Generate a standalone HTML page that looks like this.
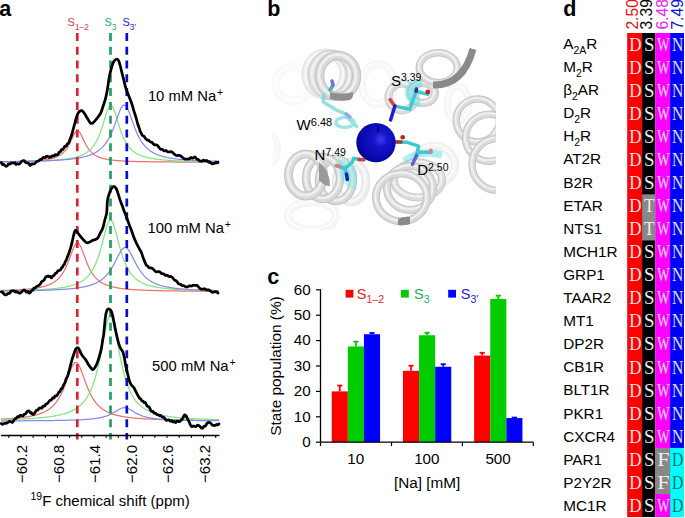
<!DOCTYPE html>
<html><head><meta charset="utf-8"><style>
html,body{margin:0;padding:0;background:#fff;}
body{width:685px;height:518px;overflow:hidden;font-family:"Liberation Sans", sans-serif;}
svg{display:block;}
</style></head><body>
<svg width="685" height="518" viewBox="0 0 685 518">
<rect width="685" height="518" fill="#fff"/>
<text x="267.3" y="15.8" font-family='"Liberation Sans", sans-serif' font-size="21.5" font-weight="bold" fill="#000">b</text>
<defs><radialGradient id="sph" cx="0.62" cy="0.42" r="0.7"><stop offset="0" stop-color="#3c3cf4"/><stop offset="0.25" stop-color="#1616cc"/><stop offset="0.75" stop-color="#0707aa"/><stop offset="1" stop-color="#000072"/></radialGradient><clipPath id="clipb"><rect x="272" y="24" width="223.6" height="206"/></clipPath></defs>
<g clip-path="url(#clipb)">
<g opacity="0.12"><ellipse cx="294.0" cy="84.0" rx="18.0" ry="17.0" fill="none" stroke="#c6c6c6" stroke-width="8.0"/><ellipse cx="294.0" cy="84.0" rx="18.0" ry="17.0" fill="none" stroke="#dadada" stroke-width="5.8"/><ellipse cx="293.4" cy="83.1" rx="18.0" ry="17.0" fill="none" stroke="#f0f0f0" stroke-width="2.2"/></g>
<g opacity="0.22"><ellipse cx="312.0" cy="216.0" rx="24.0" ry="14.0" fill="none" stroke="#c6c6c6" stroke-width="8.0"/><ellipse cx="312.0" cy="216.0" rx="24.0" ry="14.0" fill="none" stroke="#dadada" stroke-width="5.8"/><ellipse cx="311.4" cy="215.1" rx="24.0" ry="14.0" fill="none" stroke="#f0f0f0" stroke-width="2.2"/></g>
<g opacity="0.18"><ellipse cx="378.0" cy="84.0" rx="16.0" ry="20.0" fill="none" stroke="#c6c6c6" stroke-width="8.0"/><ellipse cx="378.0" cy="84.0" rx="16.0" ry="20.0" fill="none" stroke="#dadada" stroke-width="5.8"/><ellipse cx="377.4" cy="83.1" rx="16.0" ry="20.0" fill="none" stroke="#f0f0f0" stroke-width="2.2"/></g>
<g opacity="0.20"><ellipse cx="458.0" cy="104.0" rx="11.0" ry="17.0" fill="none" stroke="#c6c6c6" stroke-width="7.0"/><ellipse cx="458.0" cy="104.0" rx="11.0" ry="17.0" fill="none" stroke="#dadada" stroke-width="5.0"/><ellipse cx="457.4" cy="103.1" rx="11.0" ry="17.0" fill="none" stroke="#f0f0f0" stroke-width="2.0"/></g>
<g opacity="0.30"><ellipse cx="434.0" cy="165.0" rx="21.0" ry="19.0" fill="none" stroke="#c6c6c6" stroke-width="8.0"/><ellipse cx="434.0" cy="165.0" rx="21.0" ry="19.0" fill="none" stroke="#dadada" stroke-width="5.8"/><ellipse cx="433.4" cy="164.1" rx="21.0" ry="19.0" fill="none" stroke="#f0f0f0" stroke-width="2.2"/></g>
<g opacity="0.20"><ellipse cx="270.0" cy="150.0" rx="8.0" ry="14.0" fill="none" stroke="#c6c6c6" stroke-width="6.0"/><ellipse cx="270.0" cy="150.0" rx="8.0" ry="14.0" fill="none" stroke="#dadada" stroke-width="4.3"/><ellipse cx="269.4" cy="149.1" rx="8.0" ry="14.0" fill="none" stroke="#f0f0f0" stroke-width="1.7"/></g>
<g opacity="0.45"><ellipse cx="325.0" cy="74.0" rx="19.0" ry="21.0" fill="none" stroke="#c6c6c6" stroke-width="9.0"/><ellipse cx="325.0" cy="74.0" rx="19.0" ry="21.0" fill="none" stroke="#dadada" stroke-width="6.5"/><ellipse cx="324.4" cy="73.1" rx="19.0" ry="21.0" fill="none" stroke="#f0f0f0" stroke-width="2.5"/></g>
<g opacity="0.75"><ellipse cx="331.0" cy="75.0" rx="19.0" ry="21.0" fill="none" stroke="#c6c6c6" stroke-width="9.0"/><ellipse cx="331.0" cy="75.0" rx="19.0" ry="21.0" fill="none" stroke="#dadada" stroke-width="6.5"/><ellipse cx="330.4" cy="74.1" rx="19.0" ry="21.0" fill="none" stroke="#f0f0f0" stroke-width="2.5"/></g>
<g opacity="1.00"><ellipse cx="338.0" cy="76.0" rx="18.5" ry="20.5" fill="none" stroke="#c6c6c6" stroke-width="9.5"/><ellipse cx="338.0" cy="76.0" rx="18.5" ry="20.5" fill="none" stroke="#dadada" stroke-width="6.8"/><ellipse cx="337.4" cy="75.1" rx="18.5" ry="20.5" fill="none" stroke="#f0f0f0" stroke-width="2.7"/></g>
<g opacity="0.90"><ellipse cx="402.0" cy="97.0" rx="13.5" ry="13.5" fill="none" stroke="#c6c6c6" stroke-width="8.0"/><ellipse cx="402.0" cy="97.0" rx="13.5" ry="13.5" fill="none" stroke="#dadada" stroke-width="5.8"/><ellipse cx="401.4" cy="96.1" rx="13.5" ry="13.5" fill="none" stroke="#f0f0f0" stroke-width="2.2"/></g>
<g opacity="1.00"><ellipse cx="423.0" cy="93.0" rx="12.0" ry="10.0" fill="none" stroke="#c6c6c6" stroke-width="8.0"/><ellipse cx="423.0" cy="93.0" rx="12.0" ry="10.0" fill="none" stroke="#dadada" stroke-width="5.8"/><ellipse cx="422.4" cy="92.1" rx="12.0" ry="10.0" fill="none" stroke="#f0f0f0" stroke-width="2.2"/></g>
<g opacity="1.00"><ellipse cx="438.3" cy="67.7" rx="19.0" ry="15.0" fill="none" stroke="#c6c6c6" stroke-width="7.5"/><ellipse cx="438.3" cy="67.7" rx="19.0" ry="15.0" fill="none" stroke="#dadada" stroke-width="5.4"/><ellipse cx="437.7" cy="66.8" rx="19.0" ry="15.0" fill="none" stroke="#f0f0f0" stroke-width="2.1"/></g>
<g opacity="1.00"><ellipse cx="477.7" cy="120.4" rx="21.5" ry="21.5" fill="none" stroke="#c6c6c6" stroke-width="7.5"/><ellipse cx="477.7" cy="120.4" rx="21.5" ry="21.5" fill="none" stroke="#dadada" stroke-width="5.4"/><ellipse cx="477.1" cy="119.5" rx="21.5" ry="21.5" fill="none" stroke="#f0f0f0" stroke-width="2.1"/></g>
<g opacity="1.00"><ellipse cx="489.0" cy="137.7" rx="23.5" ry="23.5" fill="none" stroke="#c6c6c6" stroke-width="7.5"/><ellipse cx="489.0" cy="137.7" rx="23.5" ry="23.5" fill="none" stroke="#dadada" stroke-width="5.4"/><ellipse cx="488.4" cy="136.8" rx="23.5" ry="23.5" fill="none" stroke="#f0f0f0" stroke-width="2.1"/></g>
<g opacity="1.00"><ellipse cx="498.0" cy="164.4" rx="26.0" ry="26.0" fill="none" stroke="#c6c6c6" stroke-width="7.5"/><ellipse cx="498.0" cy="164.4" rx="26.0" ry="26.0" fill="none" stroke="#dadada" stroke-width="5.4"/><ellipse cx="497.4" cy="163.5" rx="26.0" ry="26.0" fill="none" stroke="#f0f0f0" stroke-width="2.1"/></g>
<g opacity="0.45"><ellipse cx="351.0" cy="182.0" rx="15.0" ry="20.0" fill="none" stroke="#c6c6c6" stroke-width="8.5"/><ellipse cx="351.0" cy="182.0" rx="15.0" ry="20.0" fill="none" stroke="#dadada" stroke-width="6.1"/><ellipse cx="350.4" cy="181.1" rx="15.0" ry="20.0" fill="none" stroke="#f0f0f0" stroke-width="2.4"/></g>
<g opacity="1.00"><ellipse cx="336.0" cy="180.0" rx="17.0" ry="21.0" fill="none" stroke="#c6c6c6" stroke-width="8.5"/><ellipse cx="336.0" cy="180.0" rx="17.0" ry="21.0" fill="none" stroke="#dadada" stroke-width="6.1"/><ellipse cx="335.4" cy="179.1" rx="17.0" ry="21.0" fill="none" stroke="#f0f0f0" stroke-width="2.4"/></g>
<g opacity="1.00"><ellipse cx="323.0" cy="178.0" rx="17.0" ry="21.0" fill="none" stroke="#c6c6c6" stroke-width="8.5"/><ellipse cx="323.0" cy="178.0" rx="17.0" ry="21.0" fill="none" stroke="#dadada" stroke-width="6.1"/><ellipse cx="322.4" cy="177.1" rx="17.0" ry="21.0" fill="none" stroke="#f0f0f0" stroke-width="2.4"/></g>
<g opacity="1.00"><ellipse cx="306.0" cy="175.0" rx="17.5" ry="21.0" fill="none" stroke="#c6c6c6" stroke-width="9.0"/><ellipse cx="306.0" cy="175.0" rx="17.5" ry="21.0" fill="none" stroke="#dadada" stroke-width="6.5"/><ellipse cx="305.4" cy="174.1" rx="17.5" ry="21.0" fill="none" stroke="#f0f0f0" stroke-width="2.5"/></g>
<g opacity="0.90"><ellipse cx="418.0" cy="180.0" rx="24.0" ry="17.5" fill="none" stroke="#c6c6c6" stroke-width="8.0"/><ellipse cx="418.0" cy="180.0" rx="24.0" ry="17.5" fill="none" stroke="#dadada" stroke-width="5.8"/><ellipse cx="417.4" cy="179.1" rx="24.0" ry="17.5" fill="none" stroke="#f0f0f0" stroke-width="2.2"/></g>
<g opacity="1.00"><ellipse cx="410.0" cy="188.0" rx="23.0" ry="22.0" fill="none" stroke="#c6c6c6" stroke-width="8.0"/><ellipse cx="410.0" cy="188.0" rx="23.0" ry="22.0" fill="none" stroke="#dadada" stroke-width="5.8"/><ellipse cx="409.4" cy="187.1" rx="23.0" ry="22.0" fill="none" stroke="#f0f0f0" stroke-width="2.2"/></g>
<g opacity="1.00"><ellipse cx="401.4" cy="197.4" rx="25.5" ry="24.0" fill="none" stroke="#c6c6c6" stroke-width="8.0"/><ellipse cx="401.4" cy="197.4" rx="25.5" ry="24.0" fill="none" stroke="#dadada" stroke-width="5.8"/><ellipse cx="400.8" cy="196.5" rx="25.5" ry="24.0" fill="none" stroke="#f0f0f0" stroke-width="2.2"/></g>
</g>
<path d="M422,83 A12,10 0 0 0 420,103" fill="none" stroke="#60e0e0" stroke-width="8" opacity="0.55"/>
<path d="M338,158 Q352,160 357,172 L356,190 Q346,188 340,178 Z" fill="#60e8e8" opacity="0.4"/>
<path d="M404,161 Q420,149 442,155" fill="none" stroke="#60e0e0" stroke-width="7" opacity="0.5"/>
<path d="M330,92 Q342,95 353,92 Q354,97 350,100 Q340,102 330,99 Z" fill="#8e8e8e"/>
<path d="M433,85 Q463,86 473,49" fill="none" stroke="#8a8a8a" stroke-width="7"/>
<path d="M319,162 Q330,170 330,186 Q324,186 319,180 Z" fill="#999"/>
<path d="M398,219 Q404,216 410,217 L410,224 Q404,226 398,225 Z" fill="#8a8a8a"/>
<g opacity="0.75">
<polyline points="323.9,95.0 323.3,102.0 335.5,109.6 344.9,113.7" fill="none" stroke="#70d8d8" stroke-width="3.5" stroke-linejoin="round" stroke-linecap="round"/>
<ellipse cx="345" cy="122.4" rx="9" ry="5" fill="none" stroke="#80dcdc" stroke-width="3.4"/>
<polyline points="348.0,118.0 356.6,126.5" fill="none" stroke="#70d8d8" stroke-width="3.5" stroke-linejoin="round" stroke-linecap="round"/>
<polyline points="346.0,114.0 350.0,117.0" fill="none" stroke="#8080e0" stroke-width="3.5" stroke-linejoin="round" stroke-linecap="round"/>
</g>
<polyline points="330.0,90.0 333.0,85.0" fill="none" stroke="#50b0b0" stroke-width="3.5" stroke-linejoin="round" stroke-linecap="round"/>
<polyline points="333.0,85.0 332.0,81.0" fill="none" stroke="#7070e0" stroke-width="3.5" stroke-linejoin="round" stroke-linecap="round"/>
<polyline points="394.9,106.1 409.7,109.3 416.1,91.2 427.8,94.4" fill="none" stroke="#40c8d0" stroke-width="3.5" stroke-linejoin="round" stroke-linecap="round"/>
<polyline points="390.1,99.7 394.9,106.1" fill="none" stroke="#e04040" stroke-width="3.5" stroke-linejoin="round" stroke-linecap="round"/>
<polyline points="394.9,106.1 390.6,119.9" fill="none" stroke="#2020c8" stroke-width="3.5" stroke-linejoin="round" stroke-linecap="round"/>
<polyline points="416.1,91.2 416.5,89.0" fill="none" stroke="#303090" stroke-width="3.5" stroke-linejoin="round" stroke-linecap="round"/>
<circle cx="427.8" cy="92" r="2.4" fill="#c02020"/>
<polyline points="397.7,142.0 406.5,142.2 418.6,146.2 416.6,155.3" fill="none" stroke="#40c8d0" stroke-width="3.5" stroke-linejoin="round" stroke-linecap="round"/>
<polyline points="416.6,155.3 412.5,164.4" fill="none" stroke="#6060d0" stroke-width="3.5" stroke-linejoin="round" stroke-linecap="round"/>
<polyline points="418.0,152.3 430.8,152.3" fill="none" stroke="#40c8d0" stroke-width="3.5" stroke-linejoin="round" stroke-linecap="round"/>
<polyline points="430.8,152.3 430.8,150.3" fill="none" stroke="#d08080" stroke-width="3.5" stroke-linejoin="round" stroke-linecap="round"/>
<polyline points="396.0,142.0 401.0,142.0" fill="none" stroke="#a04030" stroke-width="3.5" stroke-linejoin="round" stroke-linecap="round"/>
<circle cx="402.7" cy="137.3" r="2.3" fill="#c02020"/>
<polyline points="336.3,165.5 345.0,168.5 352.4,162.0 353.8,158.2 360.0,159.5" fill="none" stroke="#40c8d0" stroke-width="3.5" stroke-linejoin="round" stroke-linecap="round"/>
<polyline points="345.0,168.5 347.3,179.4" fill="none" stroke="#40c8d0" stroke-width="3.5" stroke-linejoin="round" stroke-linecap="round"/>
<polyline points="346.5,174.0 347.3,179.4" fill="none" stroke="#2020b0" stroke-width="3.5" stroke-linejoin="round" stroke-linecap="round"/>
<polyline points="336.3,165.5 340.0,166.8" fill="none" stroke="#d08080" stroke-width="3.5" stroke-linejoin="round" stroke-linecap="round"/>
<polyline points="359.0,159.5 364.0,159.7" fill="none" stroke="#d04040" stroke-width="3.5" stroke-linejoin="round" stroke-linecap="round"/>
<circle cx="376" cy="142.6" r="19.7" fill="url(#sph)"/>
<line x1="378" y1="126" x2="378" y2="131" stroke="#000090" stroke-width="2.5" stroke-linecap="round"/>
<text x="391" y="86.4" font-family='"Liberation Sans", sans-serif' font-size="15" fill="#000">S<tspan font-size="10.5" dy="-5">3.39</tspan></text>
<text x="296.6" y="129.7" font-family='"Liberation Sans", sans-serif' font-size="15" fill="#000">W<tspan font-size="11" dy="-4.2">6.48</tspan></text>
<text x="314.6" y="159.7" font-family='"Liberation Sans", sans-serif' font-size="15" fill="#000">N<tspan font-size="10.5" dy="-4">7.49</tspan></text>
<text x="417.2" y="175" font-family='"Liberation Sans", sans-serif' font-size="15" fill="#000">D<tspan font-size="10.5" dy="-4.5">2.50</tspan></text>
<g id="panel-a">
<path d="M1.00,161.82 L1.50,161.82 L2.00,161.81 L2.50,161.80 L3.00,161.80 L3.50,161.79 L4.00,161.78 L4.50,161.78 L5.00,161.77 L5.50,161.76 L6.00,161.75 L6.50,161.75 L7.00,161.74 L7.50,161.73 L8.00,161.72 L8.50,161.71 L9.00,161.71 L9.50,161.70 L10.00,161.69 L10.50,161.68 L11.00,161.67 L11.50,161.66 L12.00,161.65 L12.50,161.64 L13.00,161.63 L13.50,161.62 L14.00,161.61 L14.50,161.60 L15.00,161.59 L15.50,161.58 L16.00,161.57 L16.50,161.55 L17.00,161.54 L17.50,161.53 L18.00,161.52 L18.50,161.50 L19.00,161.49 L19.50,161.48 L20.00,161.46 L20.50,161.45 L21.00,161.43 L21.50,161.42 L22.00,161.40 L22.50,161.39 L23.00,161.37 L23.50,161.35 L24.00,161.34 L24.50,161.32 L25.00,161.30 L25.50,161.28 L26.00,161.26 L26.50,161.24 L27.00,161.22 L27.50,161.20 L28.00,161.18 L28.50,161.16 L29.00,161.14 L29.50,161.11 L30.00,161.09 L30.50,161.06 L31.00,161.04 L31.50,161.01 L32.00,160.98 L32.50,160.96 L33.00,160.93 L33.50,160.90 L34.00,160.87 L34.50,160.83 L35.00,160.80 L35.50,160.77 L36.00,160.73 L36.50,160.69 L37.00,160.66 L37.50,160.62 L38.00,160.58 L38.50,160.54 L39.00,160.49 L39.50,160.45 L40.00,160.40 L40.50,160.35 L41.00,160.30 L41.50,160.25 L42.00,160.19 L42.50,160.14 L43.00,160.08 L43.50,160.02 L44.00,159.96 L44.50,159.89 L45.00,159.82 L45.50,159.75 L46.00,159.67 L46.50,159.60 L47.00,159.51 L47.50,159.43 L48.00,159.34 L48.50,159.25 L49.00,159.15 L49.50,159.05 L50.00,158.94 L50.50,158.83 L51.00,158.71 L51.50,158.59 L52.00,158.46 L52.50,158.33 L53.00,158.18 L53.50,158.03 L54.00,157.88 L54.50,157.71 L55.00,157.53 L55.50,157.35 L56.00,157.15 L56.50,156.95 L57.00,156.73 L57.50,156.50 L58.00,156.26 L58.50,156.00 L59.00,155.73 L59.50,155.44 L60.00,155.13 L60.50,154.80 L61.00,154.46 L61.50,154.09 L62.00,153.70 L62.50,153.28 L63.00,152.84 L63.50,152.37 L64.00,151.87 L64.50,151.33 L65.00,150.77 L65.50,150.16 L66.00,149.52 L66.50,148.84 L67.00,148.12 L67.50,147.36 L68.00,146.55 L68.50,145.70 L69.00,144.81 L69.50,143.87 L70.00,142.89 L70.50,141.88 L71.00,140.84 L71.50,139.78 L72.00,138.71 L72.50,137.63 L73.00,136.57 L73.50,135.54 L74.00,134.56 L74.50,133.66 L75.00,132.84 L75.50,132.14 L76.00,131.57 L76.50,131.15 L77.00,130.89 L77.50,130.80 L78.00,130.89 L78.50,131.15 L79.00,131.57 L79.50,132.14 L80.00,132.84 L80.50,133.66 L81.00,134.56 L81.50,135.54 L82.00,136.57 L82.50,137.63 L83.00,138.71 L83.50,139.78 L84.00,140.84 L84.50,141.88 L85.00,142.89 L85.50,143.87 L86.00,144.81 L86.50,145.70 L87.00,146.55 L87.50,147.36 L88.00,148.12 L88.50,148.84 L89.00,149.52 L89.50,150.16 L90.00,150.77 L90.50,151.33 L91.00,151.87 L91.50,152.37 L92.00,152.84 L92.50,153.28 L93.00,153.70 L93.50,154.09 L94.00,154.46 L94.50,154.80 L95.00,155.13 L95.50,155.44 L96.00,155.73 L96.50,156.00 L97.00,156.26 L97.50,156.50 L98.00,156.73 L98.50,156.95 L99.00,157.15 L99.50,157.35 L100.00,157.53 L100.50,157.71 L101.00,157.88 L101.50,158.03 L102.00,158.18 L102.50,158.33 L103.00,158.46 L103.50,158.59 L104.00,158.71 L104.50,158.83 L105.00,158.94 L105.50,159.05 L106.00,159.15 L106.50,159.25 L107.00,159.34 L107.50,159.43 L108.00,159.51 L108.50,159.60 L109.00,159.67 L109.50,159.75 L110.00,159.82 L110.50,159.89 L111.00,159.96 L111.50,160.02 L112.00,160.08 L112.50,160.14 L113.00,160.19 L113.50,160.25 L114.00,160.30 L114.50,160.35 L115.00,160.40 L115.50,160.45 L116.00,160.49 L116.50,160.54 L117.00,160.58 L117.50,160.62 L118.00,160.66 L118.50,160.69 L119.00,160.73 L119.50,160.77 L120.00,160.80 L120.50,160.83 L121.00,160.87 L121.50,160.90 L122.00,160.93 L122.50,160.96 L123.00,160.98 L123.50,161.01 L124.00,161.04 L124.50,161.06 L125.00,161.09 L125.50,161.11 L126.00,161.14 L126.50,161.16 L127.00,161.18 L127.50,161.20 L128.00,161.22 L128.50,161.24 L129.00,161.26 L129.50,161.28 L130.00,161.30 L130.50,161.32 L131.00,161.34 L131.50,161.35 L132.00,161.37 L132.50,161.39 L133.00,161.40 L133.50,161.42 L134.00,161.43 L134.50,161.45 L135.00,161.46 L135.50,161.48 L136.00,161.49 L136.50,161.50 L137.00,161.52 L137.50,161.53 L138.00,161.54 L138.50,161.55 L139.00,161.57 L139.50,161.58 L140.00,161.59 L140.50,161.60 L141.00,161.61 L141.50,161.62 L142.00,161.63 L142.50,161.64 L143.00,161.65 L143.50,161.66 L144.00,161.67 L144.50,161.68 L145.00,161.69 L145.50,161.70 L146.00,161.71 L146.50,161.71 L147.00,161.72 L147.50,161.73 L148.00,161.74 L148.50,161.75 L149.00,161.75 L149.50,161.76 L150.00,161.77 L150.50,161.78 L151.00,161.78 L151.50,161.79 L152.00,161.80 L152.50,161.80 L153.00,161.81 L153.50,161.82 L154.00,161.82 L154.50,161.83 L155.00,161.83 L155.50,161.84 L156.00,161.85 L156.50,161.85 L157.00,161.86 L157.50,161.86 L158.00,161.87 L158.50,161.87 L159.00,161.88 L159.50,161.88 L160.00,161.89 L160.50,161.89 L161.00,161.90 L161.50,161.90 L162.00,161.91 L162.50,161.91 L163.00,161.92 L163.50,161.92 L164.00,161.92 L164.50,161.93 L165.00,161.93 L165.50,161.94 L166.00,161.94 L166.50,161.95 L167.00,161.95 L167.50,161.95 L168.00,161.96 L168.50,161.96 L169.00,161.96 L169.50,161.97 L170.00,161.97 L170.50,161.97 L171.00,161.98 L171.50,161.98 L172.00,161.98 L172.50,161.99 L173.00,161.99 L173.50,161.99 L174.00,162.00 L174.50,162.00 L175.00,162.00 L175.50,162.01 L176.00,162.01 L176.50,162.01 L177.00,162.02 L177.50,162.02 L178.00,162.02 L178.50,162.02 L179.00,162.03 L179.50,162.03 L180.00,162.03 L180.50,162.03 L181.00,162.04 L181.50,162.04 L182.00,162.04 L182.50,162.04 L183.00,162.05 L183.50,162.05 L184.00,162.05 L184.50,162.05 L185.00,162.06 L185.50,162.06 L186.00,162.06 L186.50,162.06 L187.00,162.06 L187.50,162.07 L188.00,162.07 L188.50,162.07 L189.00,162.07 L189.50,162.07 L190.00,162.08 L190.50,162.08 L191.00,162.08 L191.50,162.08 L192.00,162.08 L192.50,162.09 L193.00,162.09 L193.50,162.09 L194.00,162.09 L194.50,162.09 L195.00,162.10 L195.50,162.10 L196.00,162.10 L196.50,162.10 L197.00,162.10 L197.50,162.10 L198.00,162.11 L198.50,162.11 L199.00,162.11 L199.50,162.11 L200.00,162.11 L200.50,162.11 L201.00,162.11 L201.50,162.12 L202.00,162.12 L202.50,162.12 L203.00,162.12 L203.50,162.12 L204.00,162.12 L204.50,162.12 L205.00,162.13 L205.50,162.13 L206.00,162.13 L206.50,162.13 L207.00,162.13 L207.50,162.13 L208.00,162.13 L208.50,162.14 L209.00,162.14 L209.50,162.14 L210.00,162.14 L210.50,162.14 L211.00,162.14 L211.50,162.14 L212.00,162.14 L212.50,162.14 L213.00,162.15 L213.50,162.15 L214.00,162.15 L214.50,162.15 L215.00,162.15 L215.50,162.15 L216.00,162.15 L216.50,162.15 L217.00,162.15 L217.50,162.16 L218.00,162.16 L218.50,162.16 L219.00,162.16" fill="none" stroke="#f07070" stroke-width="1.25"/>
<path d="M1.00,161.73 L1.50,161.73 L2.00,161.72 L2.50,161.72 L3.00,161.71 L3.50,161.71 L4.00,161.70 L4.50,161.70 L5.00,161.69 L5.50,161.68 L6.00,161.68 L6.50,161.67 L7.00,161.67 L7.50,161.66 L8.00,161.65 L8.50,161.65 L9.00,161.64 L9.50,161.64 L10.00,161.63 L10.50,161.62 L11.00,161.62 L11.50,161.61 L12.00,161.60 L12.50,161.60 L13.00,161.59 L13.50,161.58 L14.00,161.57 L14.50,161.57 L15.00,161.56 L15.50,161.55 L16.00,161.54 L16.50,161.53 L17.00,161.53 L17.50,161.52 L18.00,161.51 L18.50,161.50 L19.00,161.49 L19.50,161.48 L20.00,161.48 L20.50,161.47 L21.00,161.46 L21.50,161.45 L22.00,161.44 L22.50,161.43 L23.00,161.42 L23.50,161.41 L24.00,161.40 L24.50,161.39 L25.00,161.38 L25.50,161.37 L26.00,161.36 L26.50,161.35 L27.00,161.33 L27.50,161.32 L28.00,161.31 L28.50,161.30 L29.00,161.29 L29.50,161.28 L30.00,161.26 L30.50,161.25 L31.00,161.24 L31.50,161.22 L32.00,161.21 L32.50,161.20 L33.00,161.18 L33.50,161.17 L34.00,161.15 L34.50,161.14 L35.00,161.12 L35.50,161.11 L36.00,161.09 L36.50,161.08 L37.00,161.06 L37.50,161.04 L38.00,161.03 L38.50,161.01 L39.00,160.99 L39.50,160.97 L40.00,160.96 L40.50,160.94 L41.00,160.92 L41.50,160.90 L42.00,160.88 L42.50,160.86 L43.00,160.84 L43.50,160.82 L44.00,160.80 L44.50,160.77 L45.00,160.75 L45.50,160.73 L46.00,160.70 L46.50,160.68 L47.00,160.65 L47.50,160.63 L48.00,160.60 L48.50,160.58 L49.00,160.55 L49.50,160.52 L50.00,160.49 L50.50,160.46 L51.00,160.43 L51.50,160.40 L52.00,160.37 L52.50,160.34 L53.00,160.31 L53.50,160.27 L54.00,160.24 L54.50,160.20 L55.00,160.17 L55.50,160.13 L56.00,160.09 L56.50,160.05 L57.00,160.01 L57.50,159.97 L58.00,159.93 L58.50,159.89 L59.00,159.84 L59.50,159.79 L60.00,159.75 L60.50,159.70 L61.00,159.65 L61.50,159.60 L62.00,159.54 L62.50,159.49 L63.00,159.43 L63.50,159.38 L64.00,159.32 L64.50,159.25 L65.00,159.19 L65.50,159.13 L66.00,159.06 L66.50,158.99 L67.00,158.92 L67.50,158.84 L68.00,158.77 L68.50,158.69 L69.00,158.61 L69.50,158.52 L70.00,158.44 L70.50,158.35 L71.00,158.25 L71.50,158.16 L72.00,158.06 L72.50,157.96 L73.00,157.85 L73.50,157.74 L74.00,157.62 L74.50,157.51 L75.00,157.38 L75.50,157.25 L76.00,157.12 L76.50,156.98 L77.00,156.84 L77.50,156.69 L78.00,156.54 L78.50,156.38 L79.00,156.21 L79.50,156.03 L80.00,155.85 L80.50,155.66 L81.00,155.46 L81.50,155.26 L82.00,155.04 L82.50,154.82 L83.00,154.58 L83.50,154.34 L84.00,154.08 L84.50,153.81 L85.00,153.53 L85.50,153.24 L86.00,152.93 L86.50,152.61 L87.00,152.27 L87.50,151.91 L88.00,151.54 L88.50,151.15 L89.00,150.73 L89.50,150.30 L90.00,149.84 L90.50,149.36 L91.00,148.86 L91.50,148.32 L92.00,147.76 L92.50,147.17 L93.00,146.55 L93.50,145.89 L94.00,145.20 L94.50,144.46 L95.00,143.69 L95.50,142.88 L96.00,142.02 L96.50,141.11 L97.00,140.15 L97.50,139.15 L98.00,138.09 L98.50,136.97 L99.00,135.80 L99.50,134.57 L100.00,133.28 L100.50,131.93 L101.00,130.52 L101.50,129.06 L102.00,127.54 L102.50,125.98 L103.00,124.37 L103.50,122.73 L104.00,121.06 L104.50,119.38 L105.00,117.70 L105.50,116.04 L106.00,114.42 L106.50,112.86 L107.00,111.38 L107.50,110.01 L108.00,108.77 L108.50,107.69 L109.00,106.79 L109.50,106.09 L110.00,105.60 L110.50,105.34 L111.00,105.32 L111.50,105.53 L112.00,105.97 L112.50,106.63 L113.00,107.49 L113.50,108.54 L114.00,109.75 L114.50,111.09 L115.00,112.55 L115.50,114.10 L116.00,115.71 L116.50,117.37 L117.00,119.04 L117.50,120.72 L118.00,122.40 L118.50,124.04 L119.00,125.66 L119.50,127.23 L120.00,128.76 L120.50,130.23 L121.00,131.65 L121.50,133.01 L122.00,134.31 L122.50,135.56 L123.00,136.74 L123.50,137.87 L124.00,138.94 L124.50,139.96 L125.00,140.92 L125.50,141.84 L126.00,142.71 L126.50,143.53 L127.00,144.31 L127.50,145.05 L128.00,145.75 L128.50,146.42 L129.00,147.05 L129.50,147.65 L130.00,148.21 L130.50,148.75 L131.00,149.26 L131.50,149.75 L132.00,150.21 L132.50,150.65 L133.00,151.06 L133.50,151.46 L134.00,151.84 L134.50,152.20 L135.00,152.54 L135.50,152.87 L136.00,153.18 L136.50,153.47 L137.00,153.76 L137.50,154.03 L138.00,154.29 L138.50,154.54 L139.00,154.77 L139.50,155.00 L140.00,155.22 L140.50,155.42 L141.00,155.62 L141.50,155.81 L142.00,156.00 L142.50,156.17 L143.00,156.34 L143.50,156.51 L144.00,156.66 L144.50,156.81 L145.00,156.96 L145.50,157.10 L146.00,157.23 L146.50,157.36 L147.00,157.48 L147.50,157.60 L148.00,157.72 L148.50,157.83 L149.00,157.94 L149.50,158.04 L150.00,158.14 L150.50,158.24 L151.00,158.33 L151.50,158.42 L152.00,158.51 L152.50,158.59 L153.00,158.67 L153.50,158.75 L154.00,158.83 L154.50,158.90 L155.00,158.98 L155.50,159.05 L156.00,159.11 L156.50,159.18 L157.00,159.24 L157.50,159.30 L158.00,159.36 L158.50,159.42 L159.00,159.48 L159.50,159.53 L160.00,159.59 L160.50,159.64 L161.00,159.69 L161.50,159.74 L162.00,159.79 L162.50,159.83 L163.00,159.88 L163.50,159.92 L164.00,159.96 L164.50,160.00 L165.00,160.05 L165.50,160.08 L166.00,160.12 L166.50,160.16 L167.00,160.20 L167.50,160.23 L168.00,160.27 L168.50,160.30 L169.00,160.33 L169.50,160.37 L170.00,160.40 L170.50,160.43 L171.00,160.46 L171.50,160.49 L172.00,160.52 L172.50,160.54 L173.00,160.57 L173.50,160.60 L174.00,160.62 L174.50,160.65 L175.00,160.67 L175.50,160.70 L176.00,160.72 L176.50,160.75 L177.00,160.77 L177.50,160.79 L178.00,160.81 L178.50,160.83 L179.00,160.85 L179.50,160.88 L180.00,160.90 L180.50,160.91 L181.00,160.93 L181.50,160.95 L182.00,160.97 L182.50,160.99 L183.00,161.01 L183.50,161.02 L184.00,161.04 L184.50,161.06 L185.00,161.07 L185.50,161.09 L186.00,161.11 L186.50,161.12 L187.00,161.14 L187.50,161.15 L188.00,161.17 L188.50,161.18 L189.00,161.19 L189.50,161.21 L190.00,161.22 L190.50,161.23 L191.00,161.25 L191.50,161.26 L192.00,161.27 L192.50,161.29 L193.00,161.30 L193.50,161.31 L194.00,161.32 L194.50,161.33 L195.00,161.34 L195.50,161.35 L196.00,161.37 L196.50,161.38 L197.00,161.39 L197.50,161.40 L198.00,161.41 L198.50,161.42 L199.00,161.43 L199.50,161.44 L200.00,161.45 L200.50,161.46 L201.00,161.46 L201.50,161.47 L202.00,161.48 L202.50,161.49 L203.00,161.50 L203.50,161.51 L204.00,161.52 L204.50,161.53 L205.00,161.53 L205.50,161.54 L206.00,161.55 L206.50,161.56 L207.00,161.56 L207.50,161.57 L208.00,161.58 L208.50,161.59 L209.00,161.59 L209.50,161.60 L210.00,161.61 L210.50,161.61 L211.00,161.62 L211.50,161.63 L212.00,161.63 L212.50,161.64 L213.00,161.65 L213.50,161.65 L214.00,161.66 L214.50,161.67 L215.00,161.67 L215.50,161.68 L216.00,161.68 L216.50,161.69 L217.00,161.69 L217.50,161.70 L218.00,161.71 L218.50,161.71 L219.00,161.72" fill="none" stroke="#80e880" stroke-width="1.25"/>
<path d="M1.00,161.67 L1.50,161.66 L2.00,161.66 L2.50,161.65 L3.00,161.65 L3.50,161.64 L4.00,161.64 L4.50,161.63 L5.00,161.63 L5.50,161.62 L6.00,161.62 L6.50,161.61 L7.00,161.60 L7.50,161.60 L8.00,161.59 L8.50,161.59 L9.00,161.58 L9.50,161.57 L10.00,161.57 L10.50,161.56 L11.00,161.55 L11.50,161.55 L12.00,161.54 L12.50,161.53 L13.00,161.53 L13.50,161.52 L14.00,161.51 L14.50,161.51 L15.00,161.50 L15.50,161.49 L16.00,161.48 L16.50,161.48 L17.00,161.47 L17.50,161.46 L18.00,161.45 L18.50,161.45 L19.00,161.44 L19.50,161.43 L20.00,161.42 L20.50,161.41 L21.00,161.40 L21.50,161.40 L22.00,161.39 L22.50,161.38 L23.00,161.37 L23.50,161.36 L24.00,161.35 L24.50,161.34 L25.00,161.33 L25.50,161.32 L26.00,161.31 L26.50,161.30 L27.00,161.29 L27.50,161.28 L28.00,161.27 L28.50,161.26 L29.00,161.25 L29.50,161.24 L30.00,161.23 L30.50,161.22 L31.00,161.21 L31.50,161.19 L32.00,161.18 L32.50,161.17 L33.00,161.16 L33.50,161.15 L34.00,161.13 L34.50,161.12 L35.00,161.11 L35.50,161.10 L36.00,161.08 L36.50,161.07 L37.00,161.05 L37.50,161.04 L38.00,161.03 L38.50,161.01 L39.00,161.00 L39.50,160.98 L40.00,160.97 L40.50,160.95 L41.00,160.93 L41.50,160.92 L42.00,160.90 L42.50,160.89 L43.00,160.87 L43.50,160.85 L44.00,160.83 L44.50,160.82 L45.00,160.80 L45.50,160.78 L46.00,160.76 L46.50,160.74 L47.00,160.72 L47.50,160.70 L48.00,160.68 L48.50,160.66 L49.00,160.64 L49.50,160.62 L50.00,160.59 L50.50,160.57 L51.00,160.55 L51.50,160.52 L52.00,160.50 L52.50,160.48 L53.00,160.45 L53.50,160.43 L54.00,160.40 L54.50,160.37 L55.00,160.35 L55.50,160.32 L56.00,160.29 L56.50,160.26 L57.00,160.23 L57.50,160.20 L58.00,160.17 L58.50,160.14 L59.00,160.11 L59.50,160.08 L60.00,160.04 L60.50,160.01 L61.00,159.97 L61.50,159.94 L62.00,159.90 L62.50,159.86 L63.00,159.83 L63.50,159.79 L64.00,159.75 L64.50,159.71 L65.00,159.66 L65.50,159.62 L66.00,159.58 L66.50,159.53 L67.00,159.49 L67.50,159.44 L68.00,159.39 L68.50,159.34 L69.00,159.29 L69.50,159.24 L70.00,159.18 L70.50,159.13 L71.00,159.07 L71.50,159.01 L72.00,158.95 L72.50,158.89 L73.00,158.83 L73.50,158.77 L74.00,158.70 L74.50,158.63 L75.00,158.56 L75.50,158.49 L76.00,158.41 L76.50,158.34 L77.00,158.26 L77.50,158.18 L78.00,158.10 L78.50,158.01 L79.00,157.92 L79.50,157.83 L80.00,157.74 L80.50,157.64 L81.00,157.54 L81.50,157.44 L82.00,157.33 L82.50,157.22 L83.00,157.11 L83.50,157.00 L84.00,156.88 L84.50,156.75 L85.00,156.62 L85.50,156.49 L86.00,156.35 L86.50,156.21 L87.00,156.06 L87.50,155.91 L88.00,155.75 L88.50,155.59 L89.00,155.42 L89.50,155.25 L90.00,155.07 L90.50,154.88 L91.00,154.68 L91.50,154.48 L92.00,154.27 L92.50,154.05 L93.00,153.82 L93.50,153.59 L94.00,153.34 L94.50,153.09 L95.00,152.82 L95.50,152.54 L96.00,152.26 L96.50,151.96 L97.00,151.64 L97.50,151.32 L98.00,150.98 L98.50,150.63 L99.00,150.26 L99.50,149.87 L100.00,149.47 L100.50,149.05 L101.00,148.61 L101.50,148.15 L102.00,147.67 L102.50,147.17 L103.00,146.64 L103.50,146.09 L104.00,145.52 L104.50,144.92 L105.00,144.29 L105.50,143.63 L106.00,142.94 L106.50,142.22 L107.00,141.47 L107.50,140.68 L108.00,139.85 L108.50,138.99 L109.00,138.09 L109.50,137.15 L110.00,136.17 L110.50,135.15 L111.00,134.09 L111.50,132.98 L112.00,131.83 L112.50,130.64 L113.00,129.41 L113.50,128.14 L114.00,126.83 L114.50,125.49 L115.00,124.12 L115.50,122.72 L116.00,121.31 L116.50,119.88 L117.00,118.45 L117.50,117.03 L118.00,115.62 L118.50,114.24 L119.00,112.90 L119.50,111.62 L120.00,110.42 L120.50,109.29 L121.00,108.27 L121.50,107.37 L122.00,106.60 L122.50,105.96 L123.00,105.48 L123.50,105.17 L124.00,105.01 L124.50,105.03 L125.00,105.22 L125.50,105.57 L126.00,106.08 L126.50,106.74 L127.00,107.54 L127.50,108.47 L128.00,109.51 L128.50,110.65 L129.00,111.87 L129.50,113.17 L130.00,114.51 L130.50,115.90 L131.00,117.31 L131.50,118.74 L132.00,120.17 L132.50,121.59 L133.00,123.01 L133.50,124.40 L134.00,125.76 L134.50,127.10 L135.00,128.40 L135.50,129.66 L136.00,130.88 L136.50,132.07 L137.00,133.21 L137.50,134.30 L138.00,135.36 L138.50,136.37 L139.00,137.34 L139.50,138.28 L140.00,139.17 L140.50,140.02 L141.00,140.84 L141.50,141.62 L142.00,142.37 L142.50,143.08 L143.00,143.76 L143.50,144.42 L144.00,145.04 L144.50,145.64 L145.00,146.20 L145.50,146.75 L146.00,147.27 L146.50,147.77 L147.00,148.24 L147.50,148.70 L148.00,149.13 L148.50,149.55 L149.00,149.95 L149.50,150.33 L150.00,150.70 L150.50,151.05 L151.00,151.39 L151.50,151.71 L152.00,152.02 L152.50,152.32 L153.00,152.60 L153.50,152.88 L154.00,153.14 L154.50,153.39 L155.00,153.64 L155.50,153.87 L156.00,154.10 L156.50,154.31 L157.00,154.52 L157.50,154.72 L158.00,154.92 L158.50,155.10 L159.00,155.28 L159.50,155.46 L160.00,155.62 L160.50,155.79 L161.00,155.94 L161.50,156.09 L162.00,156.24 L162.50,156.38 L163.00,156.52 L163.50,156.65 L164.00,156.78 L164.50,156.90 L165.00,157.02 L165.50,157.13 L166.00,157.25 L166.50,157.36 L167.00,157.46 L167.50,157.56 L168.00,157.66 L168.50,157.76 L169.00,157.85 L169.50,157.94 L170.00,158.03 L170.50,158.11 L171.00,158.20 L171.50,158.28 L172.00,158.35 L172.50,158.43 L173.00,158.50 L173.50,158.57 L174.00,158.64 L174.50,158.71 L175.00,158.78 L175.50,158.84 L176.00,158.90 L176.50,158.97 L177.00,159.02 L177.50,159.08 L178.00,159.14 L178.50,159.19 L179.00,159.25 L179.50,159.30 L180.00,159.35 L180.50,159.40 L181.00,159.45 L181.50,159.49 L182.00,159.54 L182.50,159.59 L183.00,159.63 L183.50,159.67 L184.00,159.71 L184.50,159.76 L185.00,159.79 L185.50,159.83 L186.00,159.87 L186.50,159.91 L187.00,159.95 L187.50,159.98 L188.00,160.02 L188.50,160.05 L189.00,160.08 L189.50,160.12 L190.00,160.15 L190.50,160.18 L191.00,160.21 L191.50,160.24 L192.00,160.27 L192.50,160.30 L193.00,160.32 L193.50,160.35 L194.00,160.38 L194.50,160.41 L195.00,160.43 L195.50,160.46 L196.00,160.48 L196.50,160.51 L197.00,160.53 L197.50,160.55 L198.00,160.58 L198.50,160.60 L199.00,160.62 L199.50,160.64 L200.00,160.66 L200.50,160.68 L201.00,160.70 L201.50,160.72 L202.00,160.74 L202.50,160.76 L203.00,160.78 L203.50,160.80 L204.00,160.82 L204.50,160.84 L205.00,160.85 L205.50,160.87 L206.00,160.89 L206.50,160.91 L207.00,160.92 L207.50,160.94 L208.00,160.95 L208.50,160.97 L209.00,160.98 L209.50,161.00 L210.00,161.01 L210.50,161.03 L211.00,161.04 L211.50,161.06 L212.00,161.07 L212.50,161.08 L213.00,161.10 L213.50,161.11 L214.00,161.12 L214.50,161.14 L215.00,161.15 L215.50,161.16 L216.00,161.17 L216.50,161.19 L217.00,161.20 L217.50,161.21 L218.00,161.22 L218.50,161.23 L219.00,161.24" fill="none" stroke="#8888ee" stroke-width="1.25"/>
<path d="M1.00,290.52 L1.50,290.51 L2.00,290.50 L2.50,290.48 L3.00,290.47 L3.50,290.45 L4.00,290.44 L4.50,290.42 L5.00,290.40 L5.50,290.39 L6.00,290.37 L6.50,290.35 L7.00,290.34 L7.50,290.32 L8.00,290.30 L8.50,290.28 L9.00,290.26 L9.50,290.24 L10.00,290.23 L10.50,290.21 L11.00,290.18 L11.50,290.16 L12.00,290.14 L12.50,290.12 L13.00,290.10 L13.50,290.08 L14.00,290.05 L14.50,290.03 L15.00,290.00 L15.50,289.98 L16.00,289.95 L16.50,289.93 L17.00,289.90 L17.50,289.87 L18.00,289.84 L18.50,289.82 L19.00,289.79 L19.50,289.76 L20.00,289.72 L20.50,289.69 L21.00,289.66 L21.50,289.63 L22.00,289.59 L22.50,289.56 L23.00,289.52 L23.50,289.48 L24.00,289.45 L24.50,289.41 L25.00,289.37 L25.50,289.33 L26.00,289.28 L26.50,289.24 L27.00,289.19 L27.50,289.15 L28.00,289.10 L28.50,289.05 L29.00,289.00 L29.50,288.95 L30.00,288.90 L30.50,288.84 L31.00,288.79 L31.50,288.73 L32.00,288.67 L32.50,288.61 L33.00,288.54 L33.50,288.48 L34.00,288.41 L34.50,288.34 L35.00,288.27 L35.50,288.20 L36.00,288.12 L36.50,288.04 L37.00,287.96 L37.50,287.87 L38.00,287.78 L38.50,287.69 L39.00,287.60 L39.50,287.50 L40.00,287.40 L40.50,287.30 L41.00,287.19 L41.50,287.08 L42.00,286.96 L42.50,286.84 L43.00,286.71 L43.50,286.58 L44.00,286.45 L44.50,286.31 L45.00,286.16 L45.50,286.01 L46.00,285.85 L46.50,285.69 L47.00,285.52 L47.50,285.34 L48.00,285.15 L48.50,284.96 L49.00,284.75 L49.50,284.54 L50.00,284.32 L50.50,284.09 L51.00,283.85 L51.50,283.60 L52.00,283.33 L52.50,283.06 L53.00,282.77 L53.50,282.46 L54.00,282.15 L54.50,281.81 L55.00,281.46 L55.50,281.10 L56.00,280.71 L56.50,280.31 L57.00,279.88 L57.50,279.43 L58.00,278.96 L58.50,278.47 L59.00,277.95 L59.50,277.40 L60.00,276.82 L60.50,276.22 L61.00,275.58 L61.50,274.91 L62.00,274.20 L62.50,273.46 L63.00,272.67 L63.50,271.85 L64.00,270.99 L64.50,270.08 L65.00,269.13 L65.50,268.13 L66.00,267.09 L66.50,266.00 L67.00,264.87 L67.50,263.69 L68.00,262.47 L68.50,261.20 L69.00,259.91 L69.50,258.58 L70.00,257.23 L70.50,255.86 L71.00,254.49 L71.50,253.13 L72.00,251.78 L72.50,250.47 L73.00,249.21 L73.50,248.01 L74.00,246.91 L74.50,245.91 L75.00,245.03 L75.50,244.29 L76.00,243.71 L76.50,243.30 L77.00,243.06 L77.50,243.00 L78.00,243.13 L78.50,243.44 L79.00,243.92 L79.50,244.57 L80.00,245.36 L80.50,246.29 L81.00,247.34 L81.50,248.48 L82.00,249.70 L82.50,250.99 L83.00,252.32 L83.50,253.67 L84.00,255.04 L84.50,256.41 L85.00,257.77 L85.50,259.12 L86.00,260.43 L86.50,261.71 L87.00,262.96 L87.50,264.16 L88.00,265.32 L88.50,266.44 L89.00,267.51 L89.50,268.53 L90.00,269.51 L90.50,270.45 L91.00,271.34 L91.50,272.19 L92.00,272.99 L92.50,273.76 L93.00,274.49 L93.50,275.18 L94.00,275.84 L94.50,276.46 L95.00,277.06 L95.50,277.62 L96.00,278.16 L96.50,278.67 L97.00,279.15 L97.50,279.61 L98.00,280.05 L98.50,280.47 L99.00,280.87 L99.50,281.24 L100.00,281.60 L100.50,281.95 L101.00,282.27 L101.50,282.59 L102.00,282.88 L102.50,283.17 L103.00,283.44 L103.50,283.70 L104.00,283.95 L104.50,284.18 L105.00,284.41 L105.50,284.63 L106.00,284.84 L106.50,285.04 L107.00,285.23 L107.50,285.41 L108.00,285.59 L108.50,285.75 L109.00,285.92 L109.50,286.07 L110.00,286.22 L110.50,286.37 L111.00,286.50 L111.50,286.64 L112.00,286.77 L112.50,286.89 L113.00,287.01 L113.50,287.12 L114.00,287.23 L114.50,287.34 L115.00,287.44 L115.50,287.54 L116.00,287.64 L116.50,287.73 L117.00,287.82 L117.50,287.91 L118.00,287.99 L118.50,288.07 L119.00,288.15 L119.50,288.23 L120.00,288.30 L120.50,288.37 L121.00,288.44 L121.50,288.51 L122.00,288.57 L122.50,288.63 L123.00,288.69 L123.50,288.75 L124.00,288.81 L124.50,288.87 L125.00,288.92 L125.50,288.97 L126.00,289.02 L126.50,289.07 L127.00,289.12 L127.50,289.17 L128.00,289.21 L128.50,289.26 L129.00,289.30 L129.50,289.34 L130.00,289.38 L130.50,289.42 L131.00,289.46 L131.50,289.50 L132.00,289.54 L132.50,289.57 L133.00,289.61 L133.50,289.64 L134.00,289.67 L134.50,289.71 L135.00,289.74 L135.50,289.77 L136.00,289.80 L136.50,289.83 L137.00,289.86 L137.50,289.88 L138.00,289.91 L138.50,289.94 L139.00,289.96 L139.50,289.99 L140.00,290.01 L140.50,290.04 L141.00,290.06 L141.50,290.08 L142.00,290.11 L142.50,290.13 L143.00,290.15 L143.50,290.17 L144.00,290.19 L144.50,290.21 L145.00,290.23 L145.50,290.25 L146.00,290.27 L146.50,290.29 L147.00,290.31 L147.50,290.33 L148.00,290.34 L148.50,290.36 L149.00,290.38 L149.50,290.39 L150.00,290.41 L150.50,290.43 L151.00,290.44 L151.50,290.46 L152.00,290.47 L152.50,290.49 L153.00,290.50 L153.50,290.51 L154.00,290.53 L154.50,290.54 L155.00,290.56 L155.50,290.57 L156.00,290.58 L156.50,290.59 L157.00,290.61 L157.50,290.62 L158.00,290.63 L158.50,290.64 L159.00,290.65 L159.50,290.66 L160.00,290.68 L160.50,290.69 L161.00,290.70 L161.50,290.71 L162.00,290.72 L162.50,290.73 L163.00,290.74 L163.50,290.75 L164.00,290.76 L164.50,290.77 L165.00,290.78 L165.50,290.79 L166.00,290.79 L166.50,290.80 L167.00,290.81 L167.50,290.82 L168.00,290.83 L168.50,290.84 L169.00,290.85 L169.50,290.85 L170.00,290.86 L170.50,290.87 L171.00,290.88 L171.50,290.88 L172.00,290.89 L172.50,290.90 L173.00,290.91 L173.50,290.91 L174.00,290.92 L174.50,290.93 L175.00,290.93 L175.50,290.94 L176.00,290.95 L176.50,290.95 L177.00,290.96 L177.50,290.97 L178.00,290.97 L178.50,290.98 L179.00,290.99 L179.50,290.99 L180.00,291.00 L180.50,291.00 L181.00,291.01 L181.50,291.01 L182.00,291.02 L182.50,291.03 L183.00,291.03 L183.50,291.04 L184.00,291.04 L184.50,291.05 L185.00,291.05 L185.50,291.06 L186.00,291.06 L186.50,291.07 L187.00,291.07 L187.50,291.08 L188.00,291.08 L188.50,291.08 L189.00,291.09 L189.50,291.09 L190.00,291.10 L190.50,291.10 L191.00,291.11 L191.50,291.11 L192.00,291.12 L192.50,291.12 L193.00,291.12 L193.50,291.13 L194.00,291.13 L194.50,291.14 L195.00,291.14 L195.50,291.14 L196.00,291.15 L196.50,291.15 L197.00,291.15 L197.50,291.16 L198.00,291.16 L198.50,291.17 L199.00,291.17 L199.50,291.17 L200.00,291.18 L200.50,291.18 L201.00,291.18 L201.50,291.19 L202.00,291.19 L202.50,291.19 L203.00,291.20 L203.50,291.20 L204.00,291.20 L204.50,291.21 L205.00,291.21 L205.50,291.21 L206.00,291.21 L206.50,291.22 L207.00,291.22 L207.50,291.22 L208.00,291.23 L208.50,291.23 L209.00,291.23 L209.50,291.23 L210.00,291.24 L210.50,291.24 L211.00,291.24 L211.50,291.25 L212.00,291.25 L212.50,291.25 L213.00,291.25 L213.50,291.26 L214.00,291.26 L214.50,291.26 L215.00,291.26 L215.50,291.27 L216.00,291.27 L216.50,291.27 L217.00,291.27 L217.50,291.27 L218.00,291.28 L218.50,291.28 L219.00,291.28" fill="none" stroke="#f07070" stroke-width="1.25"/>
<path d="M1.00,290.78 L1.50,290.77 L2.00,290.76 L2.50,290.76 L3.00,290.75 L3.50,290.74 L4.00,290.73 L4.50,290.72 L5.00,290.72 L5.50,290.71 L6.00,290.70 L6.50,290.69 L7.00,290.68 L7.50,290.67 L8.00,290.66 L8.50,290.65 L9.00,290.65 L9.50,290.64 L10.00,290.63 L10.50,290.62 L11.00,290.61 L11.50,290.60 L12.00,290.59 L12.50,290.58 L13.00,290.57 L13.50,290.56 L14.00,290.55 L14.50,290.53 L15.00,290.52 L15.50,290.51 L16.00,290.50 L16.50,290.49 L17.00,290.48 L17.50,290.47 L18.00,290.45 L18.50,290.44 L19.00,290.43 L19.50,290.42 L20.00,290.40 L20.50,290.39 L21.00,290.38 L21.50,290.36 L22.00,290.35 L22.50,290.34 L23.00,290.32 L23.50,290.31 L24.00,290.29 L24.50,290.28 L25.00,290.26 L25.50,290.25 L26.00,290.23 L26.50,290.21 L27.00,290.20 L27.50,290.18 L28.00,290.16 L28.50,290.15 L29.00,290.13 L29.50,290.11 L30.00,290.09 L30.50,290.08 L31.00,290.06 L31.50,290.04 L32.00,290.02 L32.50,290.00 L33.00,289.98 L33.50,289.96 L34.00,289.94 L34.50,289.91 L35.00,289.89 L35.50,289.87 L36.00,289.85 L36.50,289.82 L37.00,289.80 L37.50,289.78 L38.00,289.75 L38.50,289.73 L39.00,289.70 L39.50,289.68 L40.00,289.65 L40.50,289.62 L41.00,289.59 L41.50,289.57 L42.00,289.54 L42.50,289.51 L43.00,289.48 L43.50,289.45 L44.00,289.41 L44.50,289.38 L45.00,289.35 L45.50,289.32 L46.00,289.28 L46.50,289.25 L47.00,289.21 L47.50,289.17 L48.00,289.14 L48.50,289.10 L49.00,289.06 L49.50,289.02 L50.00,288.98 L50.50,288.93 L51.00,288.89 L51.50,288.85 L52.00,288.80 L52.50,288.75 L53.00,288.71 L53.50,288.66 L54.00,288.61 L54.50,288.56 L55.00,288.50 L55.50,288.45 L56.00,288.39 L56.50,288.34 L57.00,288.28 L57.50,288.22 L58.00,288.16 L58.50,288.09 L59.00,288.03 L59.50,287.96 L60.00,287.89 L60.50,287.82 L61.00,287.75 L61.50,287.68 L62.00,287.60 L62.50,287.52 L63.00,287.44 L63.50,287.35 L64.00,287.27 L64.50,287.18 L65.00,287.09 L65.50,286.99 L66.00,286.90 L66.50,286.80 L67.00,286.69 L67.50,286.59 L68.00,286.48 L68.50,286.36 L69.00,286.24 L69.50,286.12 L70.00,286.00 L70.50,285.87 L71.00,285.73 L71.50,285.60 L72.00,285.45 L72.50,285.30 L73.00,285.15 L73.50,284.99 L74.00,284.82 L74.50,284.65 L75.00,284.48 L75.50,284.29 L76.00,284.10 L76.50,283.90 L77.00,283.70 L77.50,283.48 L78.00,283.26 L78.50,283.03 L79.00,282.79 L79.50,282.54 L80.00,282.28 L80.50,282.01 L81.00,281.72 L81.50,281.43 L82.00,281.12 L82.50,280.80 L83.00,280.47 L83.50,280.12 L84.00,279.75 L84.50,279.37 L85.00,278.97 L85.50,278.55 L86.00,278.12 L86.50,277.66 L87.00,277.18 L87.50,276.68 L88.00,276.16 L88.50,275.60 L89.00,275.03 L89.50,274.42 L90.00,273.78 L90.50,273.11 L91.00,272.41 L91.50,271.67 L92.00,270.89 L92.50,270.08 L93.00,269.22 L93.50,268.32 L94.00,267.37 L94.50,266.38 L95.00,265.33 L95.50,264.23 L96.00,263.07 L96.50,261.86 L97.00,260.59 L97.50,259.26 L98.00,257.86 L98.50,256.40 L99.00,254.88 L99.50,253.29 L100.00,251.64 L100.50,249.93 L101.00,248.16 L101.50,246.33 L102.00,244.46 L102.50,242.55 L103.00,240.60 L103.50,238.64 L104.00,236.67 L104.50,234.71 L105.00,232.78 L105.50,230.90 L106.00,229.09 L106.50,227.38 L107.00,225.79 L107.50,224.35 L108.00,223.08 L108.50,222.00 L109.00,221.14 L109.50,220.51 L110.00,220.13 L110.50,220.00 L111.00,220.13 L111.50,220.51 L112.00,221.14 L112.50,222.00 L113.00,223.08 L113.50,224.35 L114.00,225.79 L114.50,227.38 L115.00,229.09 L115.50,230.90 L116.00,232.78 L116.50,234.71 L117.00,236.67 L117.50,238.64 L118.00,240.60 L118.50,242.55 L119.00,244.46 L119.50,246.33 L120.00,248.16 L120.50,249.93 L121.00,251.64 L121.50,253.29 L122.00,254.88 L122.50,256.40 L123.00,257.86 L123.50,259.26 L124.00,260.59 L124.50,261.86 L125.00,263.07 L125.50,264.23 L126.00,265.33 L126.50,266.38 L127.00,267.37 L127.50,268.32 L128.00,269.22 L128.50,270.08 L129.00,270.89 L129.50,271.67 L130.00,272.41 L130.50,273.11 L131.00,273.78 L131.50,274.42 L132.00,275.03 L132.50,275.60 L133.00,276.16 L133.50,276.68 L134.00,277.18 L134.50,277.66 L135.00,278.12 L135.50,278.55 L136.00,278.97 L136.50,279.37 L137.00,279.75 L137.50,280.12 L138.00,280.47 L138.50,280.80 L139.00,281.12 L139.50,281.43 L140.00,281.72 L140.50,282.01 L141.00,282.28 L141.50,282.54 L142.00,282.79 L142.50,283.03 L143.00,283.26 L143.50,283.48 L144.00,283.70 L144.50,283.90 L145.00,284.10 L145.50,284.29 L146.00,284.48 L146.50,284.65 L147.00,284.82 L147.50,284.99 L148.00,285.15 L148.50,285.30 L149.00,285.45 L149.50,285.60 L150.00,285.73 L150.50,285.87 L151.00,286.00 L151.50,286.12 L152.00,286.24 L152.50,286.36 L153.00,286.48 L153.50,286.59 L154.00,286.69 L154.50,286.80 L155.00,286.90 L155.50,286.99 L156.00,287.09 L156.50,287.18 L157.00,287.27 L157.50,287.35 L158.00,287.44 L158.50,287.52 L159.00,287.60 L159.50,287.68 L160.00,287.75 L160.50,287.82 L161.00,287.89 L161.50,287.96 L162.00,288.03 L162.50,288.09 L163.00,288.16 L163.50,288.22 L164.00,288.28 L164.50,288.34 L165.00,288.39 L165.50,288.45 L166.00,288.50 L166.50,288.56 L167.00,288.61 L167.50,288.66 L168.00,288.71 L168.50,288.75 L169.00,288.80 L169.50,288.85 L170.00,288.89 L170.50,288.93 L171.00,288.98 L171.50,289.02 L172.00,289.06 L172.50,289.10 L173.00,289.14 L173.50,289.17 L174.00,289.21 L174.50,289.25 L175.00,289.28 L175.50,289.32 L176.00,289.35 L176.50,289.38 L177.00,289.41 L177.50,289.45 L178.00,289.48 L178.50,289.51 L179.00,289.54 L179.50,289.57 L180.00,289.59 L180.50,289.62 L181.00,289.65 L181.50,289.68 L182.00,289.70 L182.50,289.73 L183.00,289.75 L183.50,289.78 L184.00,289.80 L184.50,289.82 L185.00,289.85 L185.50,289.87 L186.00,289.89 L186.50,289.91 L187.00,289.94 L187.50,289.96 L188.00,289.98 L188.50,290.00 L189.00,290.02 L189.50,290.04 L190.00,290.06 L190.50,290.08 L191.00,290.09 L191.50,290.11 L192.00,290.13 L192.50,290.15 L193.00,290.16 L193.50,290.18 L194.00,290.20 L194.50,290.21 L195.00,290.23 L195.50,290.25 L196.00,290.26 L196.50,290.28 L197.00,290.29 L197.50,290.31 L198.00,290.32 L198.50,290.34 L199.00,290.35 L199.50,290.36 L200.00,290.38 L200.50,290.39 L201.00,290.40 L201.50,290.42 L202.00,290.43 L202.50,290.44 L203.00,290.45 L203.50,290.47 L204.00,290.48 L204.50,290.49 L205.00,290.50 L205.50,290.51 L206.00,290.52 L206.50,290.53 L207.00,290.55 L207.50,290.56 L208.00,290.57 L208.50,290.58 L209.00,290.59 L209.50,290.60 L210.00,290.61 L210.50,290.62 L211.00,290.63 L211.50,290.64 L212.00,290.65 L212.50,290.65 L213.00,290.66 L213.50,290.67 L214.00,290.68 L214.50,290.69 L215.00,290.70 L215.50,290.71 L216.00,290.72 L216.50,290.72 L217.00,290.73 L217.50,290.74 L218.00,290.75 L218.50,290.76 L219.00,290.76" fill="none" stroke="#80e880" stroke-width="1.25"/>
<path d="M1.00,291.02 L1.50,291.02 L2.00,291.01 L2.50,291.01 L3.00,291.00 L3.50,291.00 L4.00,290.99 L4.50,290.99 L5.00,290.98 L5.50,290.98 L6.00,290.97 L6.50,290.97 L7.00,290.96 L7.50,290.96 L8.00,290.95 L8.50,290.95 L9.00,290.94 L9.50,290.94 L10.00,290.93 L10.50,290.93 L11.00,290.92 L11.50,290.91 L12.00,290.91 L12.50,290.90 L13.00,290.90 L13.50,290.89 L14.00,290.88 L14.50,290.88 L15.00,290.87 L15.50,290.86 L16.00,290.86 L16.50,290.85 L17.00,290.84 L17.50,290.84 L18.00,290.83 L18.50,290.82 L19.00,290.81 L19.50,290.81 L20.00,290.80 L20.50,290.79 L21.00,290.79 L21.50,290.78 L22.00,290.77 L22.50,290.76 L23.00,290.75 L23.50,290.75 L24.00,290.74 L24.50,290.73 L25.00,290.72 L25.50,290.71 L26.00,290.70 L26.50,290.69 L27.00,290.68 L27.50,290.68 L28.00,290.67 L28.50,290.66 L29.00,290.65 L29.50,290.64 L30.00,290.63 L30.50,290.62 L31.00,290.61 L31.50,290.60 L32.00,290.59 L32.50,290.58 L33.00,290.56 L33.50,290.55 L34.00,290.54 L34.50,290.53 L35.00,290.52 L35.50,290.51 L36.00,290.50 L36.50,290.48 L37.00,290.47 L37.50,290.46 L38.00,290.45 L38.50,290.43 L39.00,290.42 L39.50,290.41 L40.00,290.39 L40.50,290.38 L41.00,290.36 L41.50,290.35 L42.00,290.33 L42.50,290.32 L43.00,290.30 L43.50,290.29 L44.00,290.27 L44.50,290.26 L45.00,290.24 L45.50,290.22 L46.00,290.21 L46.50,290.19 L47.00,290.17 L47.50,290.15 L48.00,290.14 L48.50,290.12 L49.00,290.10 L49.50,290.08 L50.00,290.06 L50.50,290.04 L51.00,290.02 L51.50,290.00 L52.00,289.98 L52.50,289.96 L53.00,289.93 L53.50,289.91 L54.00,289.89 L54.50,289.87 L55.00,289.84 L55.50,289.82 L56.00,289.79 L56.50,289.77 L57.00,289.74 L57.50,289.72 L58.00,289.69 L58.50,289.66 L59.00,289.63 L59.50,289.60 L60.00,289.57 L60.50,289.54 L61.00,289.51 L61.50,289.48 L62.00,289.45 L62.50,289.42 L63.00,289.38 L63.50,289.35 L64.00,289.32 L64.50,289.28 L65.00,289.24 L65.50,289.20 L66.00,289.17 L66.50,289.13 L67.00,289.09 L67.50,289.05 L68.00,289.00 L68.50,288.96 L69.00,288.92 L69.50,288.87 L70.00,288.82 L70.50,288.78 L71.00,288.73 L71.50,288.68 L72.00,288.62 L72.50,288.57 L73.00,288.52 L73.50,288.46 L74.00,288.40 L74.50,288.35 L75.00,288.29 L75.50,288.22 L76.00,288.16 L76.50,288.09 L77.00,288.03 L77.50,287.96 L78.00,287.89 L78.50,287.81 L79.00,287.74 L79.50,287.66 L80.00,287.58 L80.50,287.50 L81.00,287.41 L81.50,287.33 L82.00,287.24 L82.50,287.14 L83.00,287.05 L83.50,286.95 L84.00,286.85 L84.50,286.74 L85.00,286.64 L85.50,286.52 L86.00,286.41 L86.50,286.29 L87.00,286.17 L87.50,286.04 L88.00,285.91 L88.50,285.77 L89.00,285.63 L89.50,285.49 L90.00,285.34 L90.50,285.18 L91.00,285.02 L91.50,284.85 L92.00,284.68 L92.50,284.50 L93.00,284.31 L93.50,284.12 L94.00,283.92 L94.50,283.71 L95.00,283.50 L95.50,283.27 L96.00,283.04 L96.50,282.80 L97.00,282.55 L97.50,282.29 L98.00,282.02 L98.50,281.73 L99.00,281.44 L99.50,281.14 L100.00,280.82 L100.50,280.49 L101.00,280.14 L101.50,279.78 L102.00,279.41 L102.50,279.02 L103.00,278.61 L103.50,278.19 L104.00,277.75 L104.50,277.29 L105.00,276.81 L105.50,276.31 L106.00,275.80 L106.50,275.25 L107.00,274.69 L107.50,274.10 L108.00,273.49 L108.50,272.86 L109.00,272.20 L109.50,271.51 L110.00,270.80 L110.50,270.06 L111.00,269.29 L111.50,268.50 L112.00,267.68 L112.50,266.83 L113.00,265.96 L113.50,265.06 L114.00,264.14 L114.50,263.20 L115.00,262.24 L115.50,261.27 L116.00,260.28 L116.50,259.29 L117.00,258.29 L117.50,257.29 L118.00,256.30 L118.50,255.33 L119.00,254.37 L119.50,253.45 L120.00,252.57 L120.50,251.73 L121.00,250.94 L121.50,250.22 L122.00,249.57 L122.50,249.01 L123.00,248.53 L123.50,248.14 L124.00,247.86 L124.50,247.68 L125.00,247.60 L125.50,247.63 L126.00,247.77 L126.50,248.02 L127.00,248.36 L127.50,248.81 L128.00,249.34 L128.50,249.95 L129.00,250.65 L129.50,251.41 L130.00,252.22 L130.50,253.09 L131.00,254.00 L131.50,254.94 L132.00,255.91 L132.50,256.89 L133.00,257.89 L133.50,258.89 L134.00,259.88 L134.50,260.88 L135.00,261.86 L135.50,262.82 L136.00,263.77 L136.50,264.70 L137.00,265.60 L137.50,266.48 L138.00,267.34 L138.50,268.17 L139.00,268.98 L139.50,269.75 L140.00,270.50 L140.50,271.23 L141.00,271.92 L141.50,272.60 L142.00,273.24 L142.50,273.86 L143.00,274.46 L143.50,275.03 L144.00,275.58 L144.50,276.11 L145.00,276.62 L145.50,277.10 L146.00,277.57 L146.50,278.02 L147.00,278.45 L147.50,278.86 L148.00,279.26 L148.50,279.64 L149.00,280.00 L149.50,280.35 L150.00,280.69 L150.50,281.01 L151.00,281.32 L151.50,281.62 L152.00,281.91 L152.50,282.18 L153.00,282.45 L153.50,282.70 L154.00,282.95 L154.50,283.18 L155.00,283.41 L155.50,283.63 L156.00,283.84 L156.50,284.04 L157.00,284.24 L157.50,284.43 L158.00,284.61 L158.50,284.78 L159.00,284.95 L159.50,285.12 L160.00,285.27 L160.50,285.43 L161.00,285.57 L161.50,285.72 L162.00,285.85 L162.50,285.99 L163.00,286.12 L163.50,286.24 L164.00,286.36 L164.50,286.48 L165.00,286.59 L165.50,286.70 L166.00,286.81 L166.50,286.91 L167.00,287.01 L167.50,287.11 L168.00,287.20 L168.50,287.29 L169.00,287.38 L169.50,287.46 L170.00,287.55 L170.50,287.63 L171.00,287.71 L171.50,287.78 L172.00,287.86 L172.50,287.93 L173.00,288.00 L173.50,288.07 L174.00,288.13 L174.50,288.20 L175.00,288.26 L175.50,288.32 L176.00,288.38 L176.50,288.44 L177.00,288.50 L177.50,288.55 L178.00,288.60 L178.50,288.66 L179.00,288.71 L179.50,288.76 L180.00,288.80 L180.50,288.85 L181.00,288.90 L181.50,288.94 L182.00,288.99 L182.50,289.03 L183.00,289.07 L183.50,289.11 L184.00,289.15 L184.50,289.19 L185.00,289.23 L185.50,289.26 L186.00,289.30 L186.50,289.34 L187.00,289.37 L187.50,289.40 L188.00,289.44 L188.50,289.47 L189.00,289.50 L189.50,289.53 L190.00,289.56 L190.50,289.59 L191.00,289.62 L191.50,289.65 L192.00,289.68 L192.50,289.70 L193.00,289.73 L193.50,289.76 L194.00,289.78 L194.50,289.81 L195.00,289.83 L195.50,289.86 L196.00,289.88 L196.50,289.90 L197.00,289.93 L197.50,289.95 L198.00,289.97 L198.50,289.99 L199.00,290.01 L199.50,290.03 L200.00,290.05 L200.50,290.07 L201.00,290.09 L201.50,290.11 L202.00,290.13 L202.50,290.15 L203.00,290.17 L203.50,290.18 L204.00,290.20 L204.50,290.22 L205.00,290.23 L205.50,290.25 L206.00,290.27 L206.50,290.28 L207.00,290.30 L207.50,290.31 L208.00,290.33 L208.50,290.34 L209.00,290.36 L209.50,290.37 L210.00,290.39 L210.50,290.40 L211.00,290.41 L211.50,290.43 L212.00,290.44 L212.50,290.45 L213.00,290.47 L213.50,290.48 L214.00,290.49 L214.50,290.50 L215.00,290.51 L215.50,290.53 L216.00,290.54 L216.50,290.55 L217.00,290.56 L217.50,290.57 L218.00,290.58 L218.50,290.59 L219.00,290.60" fill="none" stroke="#8888ee" stroke-width="1.25"/>
<path d="M1.00,419.15 L1.50,419.13 L2.00,419.10 L2.50,419.08 L3.00,419.05 L3.50,419.03 L4.00,419.00 L4.50,418.97 L5.00,418.94 L5.50,418.92 L6.00,418.89 L6.50,418.86 L7.00,418.83 L7.50,418.80 L8.00,418.77 L8.50,418.73 L9.00,418.70 L9.50,418.67 L10.00,418.63 L10.50,418.60 L11.00,418.56 L11.50,418.53 L12.00,418.49 L12.50,418.45 L13.00,418.41 L13.50,418.37 L14.00,418.33 L14.50,418.29 L15.00,418.25 L15.50,418.20 L16.00,418.16 L16.50,418.11 L17.00,418.07 L17.50,418.02 L18.00,417.97 L18.50,417.92 L19.00,417.87 L19.50,417.81 L20.00,417.76 L20.50,417.70 L21.00,417.65 L21.50,417.59 L22.00,417.53 L22.50,417.47 L23.00,417.40 L23.50,417.34 L24.00,417.27 L24.50,417.20 L25.00,417.13 L25.50,417.06 L26.00,416.99 L26.50,416.91 L27.00,416.83 L27.50,416.75 L28.00,416.67 L28.50,416.59 L29.00,416.50 L29.50,416.41 L30.00,416.32 L30.50,416.22 L31.00,416.12 L31.50,416.02 L32.00,415.92 L32.50,415.81 L33.00,415.70 L33.50,415.58 L34.00,415.46 L34.50,415.34 L35.00,415.22 L35.50,415.09 L36.00,414.95 L36.50,414.82 L37.00,414.67 L37.50,414.52 L38.00,414.37 L38.50,414.21 L39.00,414.05 L39.50,413.88 L40.00,413.70 L40.50,413.52 L41.00,413.33 L41.50,413.14 L42.00,412.94 L42.50,412.73 L43.00,412.51 L43.50,412.29 L44.00,412.05 L44.50,411.81 L45.00,411.56 L45.50,411.29 L46.00,411.02 L46.50,410.74 L47.00,410.44 L47.50,410.14 L48.00,409.82 L48.50,409.49 L49.00,409.14 L49.50,408.78 L50.00,408.40 L50.50,408.01 L51.00,407.60 L51.50,407.18 L52.00,406.74 L52.50,406.27 L53.00,405.79 L53.50,405.28 L54.00,404.76 L54.50,404.21 L55.00,403.63 L55.50,403.03 L56.00,402.40 L56.50,401.75 L57.00,401.06 L57.50,400.35 L58.00,399.60 L58.50,398.82 L59.00,398.01 L59.50,397.16 L60.00,396.27 L60.50,395.35 L61.00,394.39 L61.50,393.38 L62.00,392.34 L62.50,391.26 L63.00,390.14 L63.50,388.98 L64.00,387.78 L64.50,386.54 L65.00,385.27 L65.50,383.96 L66.00,382.62 L66.50,381.26 L67.00,379.87 L67.50,378.47 L68.00,377.07 L68.50,375.66 L69.00,374.26 L69.50,372.88 L70.00,371.53 L70.50,370.23 L71.00,368.98 L71.50,367.80 L72.00,366.70 L72.50,365.70 L73.00,364.82 L73.50,364.05 L74.00,363.42 L74.50,362.94 L75.00,362.61 L75.50,362.43 L76.00,362.41 L76.50,362.56 L77.00,362.86 L77.50,363.31 L78.00,363.92 L78.50,364.65 L79.00,365.52 L79.50,366.49 L80.00,367.57 L80.50,368.73 L81.00,369.97 L81.50,371.27 L82.00,372.61 L82.50,373.98 L83.00,375.38 L83.50,376.78 L84.00,378.19 L84.50,379.60 L85.00,380.98 L85.50,382.35 L86.00,383.70 L86.50,385.01 L87.00,386.29 L87.50,387.54 L88.00,388.74 L88.50,389.91 L89.00,391.04 L89.50,392.13 L90.00,393.18 L90.50,394.19 L91.00,395.16 L91.50,396.09 L92.00,396.98 L92.50,397.84 L93.00,398.66 L93.50,399.45 L94.00,400.20 L94.50,400.92 L95.00,401.61 L95.50,402.27 L96.00,402.91 L96.50,403.51 L97.00,404.09 L97.50,404.65 L98.00,405.18 L98.50,405.69 L99.00,406.18 L99.50,406.64 L100.00,407.09 L100.50,407.52 L101.00,407.93 L101.50,408.33 L102.00,408.71 L102.50,409.07 L103.00,409.42 L103.50,409.75 L104.00,410.07 L104.50,410.38 L105.00,410.68 L105.50,410.97 L106.00,411.24 L106.50,411.50 L107.00,411.76 L107.50,412.00 L108.00,412.24 L108.50,412.47 L109.00,412.69 L109.50,412.90 L110.00,413.10 L110.50,413.30 L111.00,413.49 L111.50,413.67 L112.00,413.85 L112.50,414.02 L113.00,414.18 L113.50,414.34 L114.00,414.49 L114.50,414.64 L115.00,414.79 L115.50,414.93 L116.00,415.06 L116.50,415.19 L117.00,415.32 L117.50,415.44 L118.00,415.56 L118.50,415.67 L119.00,415.79 L119.50,415.89 L120.00,416.00 L120.50,416.10 L121.00,416.20 L121.50,416.30 L122.00,416.39 L122.50,416.48 L123.00,416.57 L123.50,416.65 L124.00,416.74 L124.50,416.82 L125.00,416.90 L125.50,416.97 L126.00,417.05 L126.50,417.12 L127.00,417.19 L127.50,417.26 L128.00,417.33 L128.50,417.39 L129.00,417.45 L129.50,417.52 L130.00,417.58 L130.50,417.64 L131.00,417.69 L131.50,417.75 L132.00,417.80 L132.50,417.86 L133.00,417.91 L133.50,417.96 L134.00,418.01 L134.50,418.06 L135.00,418.10 L135.50,418.15 L136.00,418.19 L136.50,418.24 L137.00,418.28 L137.50,418.32 L138.00,418.36 L138.50,418.40 L139.00,418.44 L139.50,418.48 L140.00,418.52 L140.50,418.56 L141.00,418.59 L141.50,418.63 L142.00,418.66 L142.50,418.69 L143.00,418.73 L143.50,418.76 L144.00,418.79 L144.50,418.82 L145.00,418.85 L145.50,418.88 L146.00,418.91 L146.50,418.94 L147.00,418.97 L147.50,418.99 L148.00,419.02 L148.50,419.05 L149.00,419.07 L149.50,419.10 L150.00,419.12 L150.50,419.15 L151.00,419.17 L151.50,419.19 L152.00,419.22 L152.50,419.24 L153.00,419.26 L153.50,419.28 L154.00,419.30 L154.50,419.32 L155.00,419.35 L155.50,419.37 L156.00,419.39 L156.50,419.40 L157.00,419.42 L157.50,419.44 L158.00,419.46 L158.50,419.48 L159.00,419.50 L159.50,419.51 L160.00,419.53 L160.50,419.55 L161.00,419.56 L161.50,419.58 L162.00,419.60 L162.50,419.61 L163.00,419.63 L163.50,419.64 L164.00,419.66 L164.50,419.67 L165.00,419.69 L165.50,419.70 L166.00,419.72 L166.50,419.73 L167.00,419.74 L167.50,419.76 L168.00,419.77 L168.50,419.78 L169.00,419.80 L169.50,419.81 L170.00,419.82 L170.50,419.83 L171.00,419.84 L171.50,419.86 L172.00,419.87 L172.50,419.88 L173.00,419.89 L173.50,419.90 L174.00,419.91 L174.50,419.92 L175.00,419.93 L175.50,419.94 L176.00,419.96 L176.50,419.97 L177.00,419.98 L177.50,419.99 L178.00,420.00 L178.50,420.00 L179.00,420.01 L179.50,420.02 L180.00,420.03 L180.50,420.04 L181.00,420.05 L181.50,420.06 L182.00,420.07 L182.50,420.08 L183.00,420.09 L183.50,420.09 L184.00,420.10 L184.50,420.11 L185.00,420.12 L185.50,420.13 L186.00,420.13 L186.50,420.14 L187.00,420.15 L187.50,420.16 L188.00,420.16 L188.50,420.17 L189.00,420.18 L189.50,420.19 L190.00,420.19 L190.50,420.20 L191.00,420.21 L191.50,420.21 L192.00,420.22 L192.50,420.23 L193.00,420.23 L193.50,420.24 L194.00,420.25 L194.50,420.25 L195.00,420.26 L195.50,420.26 L196.00,420.27 L196.50,420.28 L197.00,420.28 L197.50,420.29 L198.00,420.29 L198.50,420.30 L199.00,420.30 L199.50,420.31 L200.00,420.32 L200.50,420.32 L201.00,420.33 L201.50,420.33 L202.00,420.34 L202.50,420.34 L203.00,420.35 L203.50,420.35 L204.00,420.36 L204.50,420.36 L205.00,420.37 L205.50,420.37 L206.00,420.38 L206.50,420.38 L207.00,420.39 L207.50,420.39 L208.00,420.40 L208.50,420.40 L209.00,420.40 L209.50,420.41 L210.00,420.41 L210.50,420.42 L211.00,420.42 L211.50,420.43 L212.00,420.43 L212.50,420.43 L213.00,420.44 L213.50,420.44 L214.00,420.45 L214.50,420.45 L215.00,420.45 L215.50,420.46 L216.00,420.46 L216.50,420.47 L217.00,420.47 L217.50,420.47 L218.00,420.48 L218.50,420.48 L219.00,420.48" fill="none" stroke="#f07070" stroke-width="1.25"/>
<path d="M1.00,419.64 L1.50,419.63 L2.00,419.62 L2.50,419.60 L3.00,419.59 L3.50,419.58 L4.00,419.57 L4.50,419.55 L5.00,419.54 L5.50,419.52 L6.00,419.51 L6.50,419.50 L7.00,419.48 L7.50,419.47 L8.00,419.45 L8.50,419.44 L9.00,419.42 L9.50,419.41 L10.00,419.39 L10.50,419.38 L11.00,419.36 L11.50,419.34 L12.00,419.33 L12.50,419.31 L13.00,419.29 L13.50,419.27 L14.00,419.26 L14.50,419.24 L15.00,419.22 L15.50,419.20 L16.00,419.18 L16.50,419.16 L17.00,419.14 L17.50,419.12 L18.00,419.10 L18.50,419.08 L19.00,419.06 L19.50,419.04 L20.00,419.02 L20.50,419.00 L21.00,418.98 L21.50,418.96 L22.00,418.93 L22.50,418.91 L23.00,418.89 L23.50,418.86 L24.00,418.84 L24.50,418.81 L25.00,418.79 L25.50,418.76 L26.00,418.74 L26.50,418.71 L27.00,418.68 L27.50,418.65 L28.00,418.63 L28.50,418.60 L29.00,418.57 L29.50,418.54 L30.00,418.51 L30.50,418.48 L31.00,418.45 L31.50,418.42 L32.00,418.38 L32.50,418.35 L33.00,418.32 L33.50,418.28 L34.00,418.25 L34.50,418.21 L35.00,418.18 L35.50,418.14 L36.00,418.10 L36.50,418.06 L37.00,418.02 L37.50,417.98 L38.00,417.94 L38.50,417.90 L39.00,417.86 L39.50,417.82 L40.00,417.77 L40.50,417.73 L41.00,417.68 L41.50,417.64 L42.00,417.59 L42.50,417.54 L43.00,417.49 L43.50,417.44 L44.00,417.39 L44.50,417.33 L45.00,417.28 L45.50,417.22 L46.00,417.16 L46.50,417.11 L47.00,417.05 L47.50,416.99 L48.00,416.92 L48.50,416.86 L49.00,416.80 L49.50,416.73 L50.00,416.66 L50.50,416.59 L51.00,416.52 L51.50,416.45 L52.00,416.37 L52.50,416.29 L53.00,416.21 L53.50,416.13 L54.00,416.05 L54.50,415.97 L55.00,415.88 L55.50,415.79 L56.00,415.70 L56.50,415.60 L57.00,415.51 L57.50,415.41 L58.00,415.31 L58.50,415.20 L59.00,415.09 L59.50,414.98 L60.00,414.87 L60.50,414.75 L61.00,414.63 L61.50,414.51 L62.00,414.38 L62.50,414.25 L63.00,414.12 L63.50,413.98 L64.00,413.84 L64.50,413.69 L65.00,413.54 L65.50,413.38 L66.00,413.22 L66.50,413.06 L67.00,412.89 L67.50,412.71 L68.00,412.53 L68.50,412.34 L69.00,412.15 L69.50,411.95 L70.00,411.74 L70.50,411.53 L71.00,411.31 L71.50,411.08 L72.00,410.84 L72.50,410.60 L73.00,410.35 L73.50,410.09 L74.00,409.81 L74.50,409.53 L75.00,409.24 L75.50,408.94 L76.00,408.63 L76.50,408.30 L77.00,407.96 L77.50,407.61 L78.00,407.25 L78.50,406.87 L79.00,406.48 L79.50,406.07 L80.00,405.64 L80.50,405.20 L81.00,404.74 L81.50,404.26 L82.00,403.76 L82.50,403.24 L83.00,402.69 L83.50,402.12 L84.00,401.53 L84.50,400.91 L85.00,400.27 L85.50,399.59 L86.00,398.89 L86.50,398.15 L87.00,397.38 L87.50,396.57 L88.00,395.72 L88.50,394.84 L89.00,393.91 L89.50,392.94 L90.00,391.93 L90.50,390.86 L91.00,389.74 L91.50,388.57 L92.00,387.35 L92.50,386.06 L93.00,384.71 L93.50,383.30 L94.00,381.82 L94.50,380.26 L95.00,378.64 L95.50,376.94 L96.00,375.16 L96.50,373.30 L97.00,371.36 L97.50,369.33 L98.00,367.22 L98.50,365.03 L99.00,362.76 L99.50,360.40 L100.00,357.97 L100.50,355.46 L101.00,352.89 L101.50,350.27 L102.00,347.59 L102.50,344.88 L103.00,342.16 L103.50,339.43 L104.00,336.73 L104.50,334.07 L105.00,331.49 L105.50,329.01 L106.00,326.65 L106.50,324.46 L107.00,322.46 L107.50,320.68 L108.00,319.15 L108.50,317.91 L109.00,316.96 L109.50,316.33 L110.00,316.03 L110.50,316.06 L111.00,316.43 L111.50,317.12 L112.00,318.13 L112.50,319.44 L113.00,321.02 L113.50,322.84 L114.00,324.88 L114.50,327.11 L115.00,329.49 L115.50,332.00 L116.00,334.60 L116.50,337.27 L117.00,339.98 L117.50,342.70 L118.00,345.43 L118.50,348.13 L119.00,350.79 L119.50,353.41 L120.00,355.97 L120.50,358.46 L121.00,360.88 L121.50,363.22 L122.00,365.48 L122.50,367.65 L123.00,369.74 L123.50,371.75 L124.00,373.68 L124.50,375.52 L125.00,377.28 L125.50,378.97 L126.00,380.58 L126.50,382.12 L127.00,383.58 L127.50,384.99 L128.00,386.32 L128.50,387.60 L129.00,388.81 L129.50,389.97 L130.00,391.08 L130.50,392.13 L131.00,393.14 L131.50,394.10 L132.00,395.02 L132.50,395.90 L133.00,396.73 L133.50,397.53 L134.00,398.30 L134.50,399.03 L135.00,399.73 L135.50,400.40 L136.00,401.04 L136.50,401.65 L137.00,402.24 L137.50,402.80 L138.00,403.34 L138.50,403.86 L139.00,404.36 L139.50,404.83 L140.00,405.29 L140.50,405.73 L141.00,406.15 L141.50,406.56 L142.00,406.95 L142.50,407.32 L143.00,407.68 L143.50,408.03 L144.00,408.37 L144.50,408.69 L145.00,409.00 L145.50,409.30 L146.00,409.59 L146.50,409.87 L147.00,410.14 L147.50,410.40 L148.00,410.65 L148.50,410.89 L149.00,411.13 L149.50,411.35 L150.00,411.57 L150.50,411.78 L151.00,411.99 L151.50,412.19 L152.00,412.38 L152.50,412.57 L153.00,412.75 L153.50,412.92 L154.00,413.09 L154.50,413.26 L155.00,413.42 L155.50,413.57 L156.00,413.72 L156.50,413.87 L157.00,414.01 L157.50,414.15 L158.00,414.28 L158.50,414.41 L159.00,414.53 L159.50,414.66 L160.00,414.78 L160.50,414.89 L161.00,415.01 L161.50,415.12 L162.00,415.22 L162.50,415.33 L163.00,415.43 L163.50,415.53 L164.00,415.62 L164.50,415.72 L165.00,415.81 L165.50,415.90 L166.00,415.98 L166.50,416.07 L167.00,416.15 L167.50,416.23 L168.00,416.31 L168.50,416.39 L169.00,416.46 L169.50,416.53 L170.00,416.60 L170.50,416.67 L171.00,416.74 L171.50,416.81 L172.00,416.87 L172.50,416.94 L173.00,417.00 L173.50,417.06 L174.00,417.12 L174.50,417.18 L175.00,417.23 L175.50,417.29 L176.00,417.34 L176.50,417.40 L177.00,417.45 L177.50,417.50 L178.00,417.55 L178.50,417.60 L179.00,417.64 L179.50,417.69 L180.00,417.74 L180.50,417.78 L181.00,417.83 L181.50,417.87 L182.00,417.91 L182.50,417.95 L183.00,417.99 L183.50,418.03 L184.00,418.07 L184.50,418.11 L185.00,418.15 L185.50,418.18 L186.00,418.22 L186.50,418.26 L187.00,418.29 L187.50,418.32 L188.00,418.36 L188.50,418.39 L189.00,418.42 L189.50,418.45 L190.00,418.49 L190.50,418.52 L191.00,418.55 L191.50,418.58 L192.00,418.60 L192.50,418.63 L193.00,418.66 L193.50,418.69 L194.00,418.71 L194.50,418.74 L195.00,418.77 L195.50,418.79 L196.00,418.82 L196.50,418.84 L197.00,418.87 L197.50,418.89 L198.00,418.91 L198.50,418.94 L199.00,418.96 L199.50,418.98 L200.00,419.00 L200.50,419.03 L201.00,419.05 L201.50,419.07 L202.00,419.09 L202.50,419.11 L203.00,419.13 L203.50,419.15 L204.00,419.17 L204.50,419.19 L205.00,419.21 L205.50,419.22 L206.00,419.24 L206.50,419.26 L207.00,419.28 L207.50,419.30 L208.00,419.31 L208.50,419.33 L209.00,419.35 L209.50,419.36 L210.00,419.38 L210.50,419.39 L211.00,419.41 L211.50,419.43 L212.00,419.44 L212.50,419.46 L213.00,419.47 L213.50,419.48 L214.00,419.50 L214.50,419.51 L215.00,419.53 L215.50,419.54 L216.00,419.55 L216.50,419.57 L217.00,419.58 L217.50,419.59 L218.00,419.61 L218.50,419.62 L219.00,419.63" fill="none" stroke="#80e880" stroke-width="1.25"/>
<path d="M1.00,420.83 L1.50,420.83 L2.00,420.83 L2.50,420.83 L3.00,420.83 L3.50,420.82 L4.00,420.82 L4.50,420.82 L5.00,420.82 L5.50,420.82 L6.00,420.82 L6.50,420.82 L7.00,420.81 L7.50,420.81 L8.00,420.81 L8.50,420.81 L9.00,420.81 L9.50,420.81 L10.00,420.80 L10.50,420.80 L11.00,420.80 L11.50,420.80 L12.00,420.80 L12.50,420.80 L13.00,420.79 L13.50,420.79 L14.00,420.79 L14.50,420.79 L15.00,420.79 L15.50,420.78 L16.00,420.78 L16.50,420.78 L17.00,420.78 L17.50,420.78 L18.00,420.77 L18.50,420.77 L19.00,420.77 L19.50,420.77 L20.00,420.77 L20.50,420.76 L21.00,420.76 L21.50,420.76 L22.00,420.76 L22.50,420.75 L23.00,420.75 L23.50,420.75 L24.00,420.75 L24.50,420.74 L25.00,420.74 L25.50,420.74 L26.00,420.74 L26.50,420.73 L27.00,420.73 L27.50,420.73 L28.00,420.73 L28.50,420.72 L29.00,420.72 L29.50,420.72 L30.00,420.71 L30.50,420.71 L31.00,420.71 L31.50,420.71 L32.00,420.70 L32.50,420.70 L33.00,420.70 L33.50,420.69 L34.00,420.69 L34.50,420.69 L35.00,420.68 L35.50,420.68 L36.00,420.68 L36.50,420.67 L37.00,420.67 L37.50,420.66 L38.00,420.66 L38.50,420.66 L39.00,420.65 L39.50,420.65 L40.00,420.64 L40.50,420.64 L41.00,420.64 L41.50,420.63 L42.00,420.63 L42.50,420.62 L43.00,420.62 L43.50,420.61 L44.00,420.61 L44.50,420.60 L45.00,420.60 L45.50,420.60 L46.00,420.59 L46.50,420.58 L47.00,420.58 L47.50,420.57 L48.00,420.57 L48.50,420.56 L49.00,420.56 L49.50,420.55 L50.00,420.55 L50.50,420.54 L51.00,420.53 L51.50,420.53 L52.00,420.52 L52.50,420.52 L53.00,420.51 L53.50,420.50 L54.00,420.50 L54.50,420.49 L55.00,420.48 L55.50,420.47 L56.00,420.47 L56.50,420.46 L57.00,420.45 L57.50,420.44 L58.00,420.44 L58.50,420.43 L59.00,420.42 L59.50,420.41 L60.00,420.40 L60.50,420.39 L61.00,420.38 L61.50,420.37 L62.00,420.36 L62.50,420.35 L63.00,420.34 L63.50,420.33 L64.00,420.32 L64.50,420.31 L65.00,420.30 L65.50,420.29 L66.00,420.28 L66.50,420.27 L67.00,420.26 L67.50,420.24 L68.00,420.23 L68.50,420.22 L69.00,420.20 L69.50,420.19 L70.00,420.18 L70.50,420.16 L71.00,420.15 L71.50,420.13 L72.00,420.12 L72.50,420.10 L73.00,420.08 L73.50,420.07 L74.00,420.05 L74.50,420.03 L75.00,420.01 L75.50,420.00 L76.00,419.98 L76.50,419.96 L77.00,419.94 L77.50,419.92 L78.00,419.89 L78.50,419.87 L79.00,419.85 L79.50,419.83 L80.00,419.80 L80.50,419.78 L81.00,419.75 L81.50,419.73 L82.00,419.70 L82.50,419.67 L83.00,419.64 L83.50,419.61 L84.00,419.58 L84.50,419.55 L85.00,419.52 L85.50,419.48 L86.00,419.45 L86.50,419.41 L87.00,419.37 L87.50,419.33 L88.00,419.29 L88.50,419.25 L89.00,419.21 L89.50,419.17 L90.00,419.12 L90.50,419.07 L91.00,419.02 L91.50,418.97 L92.00,418.92 L92.50,418.86 L93.00,418.81 L93.50,418.75 L94.00,418.69 L94.50,418.62 L95.00,418.56 L95.50,418.49 L96.00,418.41 L96.50,418.34 L97.00,418.26 L97.50,418.18 L98.00,418.10 L98.50,418.01 L99.00,417.92 L99.50,417.82 L100.00,417.73 L100.50,417.62 L101.00,417.52 L101.50,417.40 L102.00,417.29 L102.50,417.17 L103.00,417.04 L103.50,416.91 L104.00,416.77 L104.50,416.63 L105.00,416.48 L105.50,416.32 L106.00,416.16 L106.50,415.99 L107.00,415.81 L107.50,415.63 L108.00,415.43 L108.50,415.23 L109.00,415.02 L109.50,414.81 L110.00,414.58 L110.50,414.35 L111.00,414.11 L111.50,413.86 L112.00,413.60 L112.50,413.33 L113.00,413.06 L113.50,412.78 L114.00,412.49 L114.50,412.19 L115.00,411.89 L115.50,411.59 L116.00,411.28 L116.50,410.97 L117.00,410.67 L117.50,410.36 L118.00,410.06 L118.50,409.76 L119.00,409.48 L119.50,409.20 L120.00,408.95 L120.50,408.70 L121.00,408.48 L121.50,408.28 L122.00,408.11 L122.50,407.97 L123.00,407.85 L123.50,407.77 L124.00,407.72 L124.50,407.70 L125.00,407.72 L125.50,407.77 L126.00,407.85 L126.50,407.97 L127.00,408.11 L127.50,408.28 L128.00,408.48 L128.50,408.70 L129.00,408.95 L129.50,409.20 L130.00,409.48 L130.50,409.76 L131.00,410.06 L131.50,410.36 L132.00,410.67 L132.50,410.97 L133.00,411.28 L133.50,411.59 L134.00,411.89 L134.50,412.19 L135.00,412.49 L135.50,412.78 L136.00,413.06 L136.50,413.33 L137.00,413.60 L137.50,413.86 L138.00,414.11 L138.50,414.35 L139.00,414.58 L139.50,414.81 L140.00,415.02 L140.50,415.23 L141.00,415.43 L141.50,415.63 L142.00,415.81 L142.50,415.99 L143.00,416.16 L143.50,416.32 L144.00,416.48 L144.50,416.63 L145.00,416.77 L145.50,416.91 L146.00,417.04 L146.50,417.17 L147.00,417.29 L147.50,417.40 L148.00,417.52 L148.50,417.62 L149.00,417.73 L149.50,417.82 L150.00,417.92 L150.50,418.01 L151.00,418.10 L151.50,418.18 L152.00,418.26 L152.50,418.34 L153.00,418.41 L153.50,418.49 L154.00,418.56 L154.50,418.62 L155.00,418.69 L155.50,418.75 L156.00,418.81 L156.50,418.86 L157.00,418.92 L157.50,418.97 L158.00,419.02 L158.50,419.07 L159.00,419.12 L159.50,419.17 L160.00,419.21 L160.50,419.25 L161.00,419.29 L161.50,419.33 L162.00,419.37 L162.50,419.41 L163.00,419.45 L163.50,419.48 L164.00,419.52 L164.50,419.55 L165.00,419.58 L165.50,419.61 L166.00,419.64 L166.50,419.67 L167.00,419.70 L167.50,419.73 L168.00,419.75 L168.50,419.78 L169.00,419.80 L169.50,419.83 L170.00,419.85 L170.50,419.87 L171.00,419.89 L171.50,419.92 L172.00,419.94 L172.50,419.96 L173.00,419.98 L173.50,420.00 L174.00,420.01 L174.50,420.03 L175.00,420.05 L175.50,420.07 L176.00,420.08 L176.50,420.10 L177.00,420.12 L177.50,420.13 L178.00,420.15 L178.50,420.16 L179.00,420.18 L179.50,420.19 L180.00,420.20 L180.50,420.22 L181.00,420.23 L181.50,420.24 L182.00,420.26 L182.50,420.27 L183.00,420.28 L183.50,420.29 L184.00,420.30 L184.50,420.31 L185.00,420.32 L185.50,420.33 L186.00,420.34 L186.50,420.35 L187.00,420.36 L187.50,420.37 L188.00,420.38 L188.50,420.39 L189.00,420.40 L189.50,420.41 L190.00,420.42 L190.50,420.43 L191.00,420.44 L191.50,420.44 L192.00,420.45 L192.50,420.46 L193.00,420.47 L193.50,420.47 L194.00,420.48 L194.50,420.49 L195.00,420.50 L195.50,420.50 L196.00,420.51 L196.50,420.52 L197.00,420.52 L197.50,420.53 L198.00,420.53 L198.50,420.54 L199.00,420.55 L199.50,420.55 L200.00,420.56 L200.50,420.56 L201.00,420.57 L201.50,420.57 L202.00,420.58 L202.50,420.58 L203.00,420.59 L203.50,420.60 L204.00,420.60 L204.50,420.60 L205.00,420.61 L205.50,420.61 L206.00,420.62 L206.50,420.62 L207.00,420.63 L207.50,420.63 L208.00,420.64 L208.50,420.64 L209.00,420.64 L209.50,420.65 L210.00,420.65 L210.50,420.66 L211.00,420.66 L211.50,420.66 L212.00,420.67 L212.50,420.67 L213.00,420.68 L213.50,420.68 L214.00,420.68 L214.50,420.69 L215.00,420.69 L215.50,420.69 L216.00,420.70 L216.50,420.70 L217.00,420.70 L217.50,420.71 L218.00,420.71 L218.50,420.71 L219.00,420.71" fill="none" stroke="#8888ee" stroke-width="1.25"/>
<line x1="77.3" y1="32.9" x2="77.3" y2="439.6" stroke="#dd2233" stroke-width="2.7" stroke-dasharray="8 5.8"/>
<line x1="110.5" y1="32.9" x2="110.5" y2="439.6" stroke="#22a060" stroke-width="2.7" stroke-dasharray="8 5.8"/>
<line x1="126.8" y1="32.9" x2="126.8" y2="439.6" stroke="#0b0bd0" stroke-width="2.7" stroke-dasharray="8 5.8"/>
<path d="M1.20,162.50 C1.43,162.84 2.13,164.24 2.60,164.57 C3.07,164.90 3.52,164.24 4.00,164.50 C4.48,164.76 5.00,165.89 5.50,166.14 C6.00,166.39 6.50,166.36 7.00,166.00 C7.50,165.64 8.00,164.34 8.50,164.01 C9.00,163.67 9.43,164.20 10.00,164.00 C10.57,163.80 11.30,162.98 11.95,162.83 C12.60,162.68 13.40,163.11 13.90,163.10 C14.40,163.09 14.60,162.52 14.95,162.75 C15.30,162.99 15.62,164.34 16.00,164.50 C16.38,164.66 16.83,163.81 17.25,163.73 C17.67,163.64 18.08,164.00 18.50,164.00 C18.92,164.00 19.33,164.08 19.75,163.75 C20.17,163.42 20.52,162.48 21.00,162.00 C21.48,161.52 22.10,161.05 22.65,160.85 C23.20,160.65 23.80,160.54 24.30,160.80 C24.80,161.06 25.20,162.07 25.65,162.44 C26.10,162.80 26.52,162.88 27.00,163.00 C27.48,163.12 28.03,162.76 28.55,163.18 C29.07,163.60 29.60,165.38 30.10,165.50 C30.60,165.62 31.07,164.15 31.55,163.90 C32.03,163.65 32.52,164.03 33.00,164.00 C33.48,163.97 33.97,164.00 34.45,163.73 C34.93,163.46 35.44,162.83 35.90,162.40 C36.36,161.97 36.77,161.41 37.20,161.17 C37.63,160.94 38.02,161.27 38.50,161.00 C38.98,160.73 39.57,159.79 40.10,159.53 C40.63,159.26 41.24,159.72 41.70,159.40 C42.16,159.08 42.47,157.94 42.85,157.63 C43.23,157.31 43.61,157.49 44.00,157.50 C44.39,157.51 44.80,157.90 45.20,157.69 C45.60,157.47 45.98,156.42 46.40,156.20 C46.82,155.98 47.27,156.10 47.70,156.34 C48.13,156.57 48.62,157.55 49.00,157.60 C49.38,157.65 49.67,156.71 50.00,156.63 C50.33,156.54 50.58,157.25 51.00,157.10 C51.42,156.95 52.00,155.89 52.50,155.71 C53.00,155.53 53.52,156.18 54.00,156.00 C54.48,155.82 54.93,154.80 55.40,154.60 C55.87,154.40 56.38,154.80 56.80,154.80 C57.22,154.80 57.53,155.00 57.90,154.62 C58.27,154.23 58.62,152.94 59.00,152.50 C59.38,152.06 59.80,152.42 60.20,151.95 C60.60,151.48 61.02,150.06 61.40,149.70 C61.77,149.34 62.10,150.02 62.45,149.82 C62.80,149.62 63.11,149.07 63.50,148.50 C63.89,147.93 64.37,146.76 64.80,146.37 C65.23,145.99 65.72,146.55 66.10,146.20 C66.47,145.85 66.73,144.75 67.05,144.30 C67.37,143.85 67.71,143.76 68.00,143.50 C68.29,143.24 68.53,143.28 68.80,142.77 C69.07,142.25 69.15,141.61 69.60,140.40 C70.05,139.19 70.93,137.23 71.50,135.50 C72.07,133.77 72.42,132.17 73.00,130.00 C73.58,127.83 74.42,124.63 75.00,122.50 C75.58,120.37 75.92,118.87 76.50,117.20 C77.08,115.53 77.72,113.58 78.50,112.50 C79.28,111.42 80.45,110.87 81.20,110.70 C81.95,110.53 82.43,110.98 83.00,111.50 C83.57,112.02 83.85,112.63 84.60,113.80 C85.35,114.97 86.53,116.97 87.50,118.50 C88.47,120.03 89.57,122.22 90.40,123.00 C91.23,123.78 91.72,123.58 92.50,123.20 C93.28,122.82 94.18,121.73 95.10,120.70 C96.02,119.67 97.03,118.35 98.00,117.00 C98.97,115.65 100.07,114.35 100.90,112.60 C101.73,110.85 102.23,108.82 103.00,106.50 C103.77,104.18 104.78,101.45 105.50,98.70 C106.22,95.95 106.67,93.62 107.30,90.00 C107.93,86.38 108.58,80.77 109.30,77.00 C110.02,73.23 110.90,69.90 111.60,67.40 C112.30,64.90 112.73,63.35 113.50,62.00 C114.27,60.65 115.37,59.57 116.20,59.30 C117.03,59.03 117.82,59.28 118.50,60.40 C119.18,61.52 119.72,63.88 120.30,66.00 C120.88,68.12 121.42,70.77 122.00,73.10 C122.58,75.43 123.22,77.68 123.80,80.00 C124.38,82.32 124.93,85.00 125.50,87.00 C126.07,89.00 126.63,90.45 127.20,92.00 C127.77,93.55 128.33,94.88 128.90,96.30 C129.47,97.72 130.02,98.95 130.60,100.50 C131.18,102.05 131.80,103.68 132.40,105.60 C133.00,107.52 133.62,110.08 134.20,112.00 C134.78,113.92 135.33,115.18 135.90,117.10 C136.47,119.02 137.02,121.57 137.60,123.50 C138.18,125.43 138.97,127.36 139.40,128.70 C139.83,130.04 139.93,130.90 140.20,131.54 C140.47,132.17 140.72,131.94 141.00,132.50 C141.28,133.06 141.60,134.40 141.90,134.92 C142.20,135.43 142.43,135.34 142.80,135.60 C143.18,135.86 143.70,136.00 144.15,136.48 C144.60,136.96 145.02,137.91 145.50,138.50 C145.98,139.09 146.53,139.70 147.05,140.00 C147.57,140.30 148.06,139.98 148.60,140.30 C149.14,140.62 149.73,141.56 150.30,141.89 C150.87,142.22 151.42,141.89 152.00,142.30 C152.58,142.71 153.20,143.92 153.80,144.35 C154.40,144.79 155.02,144.75 155.60,144.90 C156.18,145.05 156.73,144.81 157.30,145.24 C157.87,145.67 158.43,146.84 159.00,147.50 C159.57,148.16 160.17,148.87 160.75,149.20 C161.33,149.54 161.92,149.22 162.50,149.50 C163.08,149.78 163.67,150.69 164.25,150.86 C164.83,151.02 165.43,150.35 166.00,150.50 C166.57,150.65 167.13,151.51 167.70,151.74 C168.27,151.97 168.73,151.89 169.40,151.90 C170.07,151.91 170.93,151.47 171.70,151.78 C172.47,152.10 173.22,153.19 174.00,153.80 C174.78,154.41 175.57,155.22 176.35,155.47 C177.13,155.72 177.95,155.21 178.70,155.30 C179.45,155.39 180.13,155.60 180.85,156.01 C181.57,156.43 182.22,157.27 183.00,157.80 C183.78,158.33 184.67,159.02 185.50,159.19 C186.33,159.35 187.33,158.86 188.00,158.80 C188.67,158.74 189.00,159.04 189.50,158.82 C190.00,158.60 190.43,157.60 191.00,157.50 C191.57,157.40 192.30,158.33 192.95,158.23 C193.60,158.13 194.32,156.82 194.90,156.90 C195.48,156.98 195.93,158.28 196.45,158.71 C196.97,159.15 197.42,159.12 198.00,159.50 C198.58,159.88 199.30,160.75 199.95,161.01 C200.60,161.28 201.32,161.24 201.90,161.10 C202.48,160.96 202.93,160.20 203.45,160.15 C203.97,160.10 204.43,160.73 205.00,160.80 C205.57,160.87 206.27,160.34 206.90,160.59 C207.53,160.84 208.30,162.11 208.80,162.30 C209.30,162.49 209.53,161.59 209.90,161.71 C210.27,161.82 210.62,162.63 211.00,163.00 C211.38,163.37 211.80,163.87 212.20,163.93 C212.60,164.00 212.98,163.50 213.40,163.40 C213.82,163.30 214.27,163.55 214.70,163.35 C215.13,163.15 215.62,162.26 216.00,162.20 C216.38,162.14 216.67,162.97 217.00,162.99 C217.33,163.01 217.83,162.42 218.00,162.30" fill="none" stroke="#000" stroke-width="2.75" stroke-linejoin="round" stroke-linecap="round"/>
<path d="M1.30,291.80 C1.48,291.82 2.03,291.64 2.40,291.93 C2.77,292.21 3.08,293.03 3.50,293.50 C3.92,293.97 4.43,294.51 4.90,294.73 C5.37,294.94 5.80,295.00 6.30,294.80 C6.80,294.60 7.37,293.75 7.90,293.50 C8.43,293.25 8.97,293.69 9.50,293.30 C10.03,292.91 10.53,291.55 11.05,291.16 C11.57,290.78 12.10,291.07 12.60,291.00 C13.10,290.93 13.57,290.59 14.05,290.76 C14.53,290.93 14.98,291.84 15.50,292.00 C16.02,292.16 16.60,291.56 17.15,291.72 C17.70,291.89 18.26,292.79 18.80,293.00 C19.34,293.21 19.87,293.23 20.40,292.98 C20.93,292.73 21.48,292.00 22.00,291.50 C22.52,291.00 23.03,290.13 23.55,289.96 C24.07,289.79 24.68,290.19 25.10,290.50 C25.52,290.81 25.73,291.55 26.05,291.80 C26.37,292.05 26.68,292.04 27.00,292.00 C27.32,291.96 27.63,291.38 27.95,291.54 C28.27,291.71 28.52,292.83 28.90,293.00 C29.27,293.17 29.77,292.98 30.20,292.56 C30.63,292.15 31.08,290.88 31.50,290.50 C31.92,290.12 32.30,290.71 32.70,290.29 C33.10,289.87 33.44,288.39 33.90,288.00 C34.36,287.61 34.93,288.27 35.45,287.94 C35.97,287.60 36.48,286.38 37.00,286.00 C37.52,285.62 38.07,285.96 38.60,285.66 C39.13,285.36 39.72,284.83 40.20,284.20 C40.68,283.57 41.07,282.40 41.50,281.87 C41.93,281.33 42.38,281.30 42.80,281.00 C43.22,280.70 43.60,280.56 44.00,280.06 C44.40,279.56 44.83,278.59 45.20,278.00 C45.57,277.41 45.87,276.80 46.20,276.55 C46.53,276.30 46.88,276.62 47.20,276.50 C47.52,276.38 47.80,275.77 48.10,275.80 C48.40,275.83 48.64,276.58 49.00,276.70 C49.36,276.82 49.83,276.28 50.25,276.50 C50.67,276.72 51.08,278.10 51.50,278.00 C51.92,277.90 52.33,276.30 52.75,275.89 C53.17,275.47 53.58,275.91 54.00,275.50 C54.42,275.09 54.83,273.84 55.25,273.41 C55.67,272.97 56.08,273.28 56.50,272.90 C56.92,272.52 57.33,271.51 57.75,271.11 C58.17,270.71 58.58,270.66 59.00,270.50 C59.42,270.34 59.83,270.57 60.25,270.14 C60.67,269.70 61.12,268.40 61.50,267.90 C61.88,267.40 62.17,267.60 62.50,267.12 C62.83,266.64 63.18,265.47 63.50,265.00 C63.82,264.53 64.10,264.88 64.40,264.31 C64.70,263.75 64.99,262.30 65.30,261.60 C65.61,260.90 65.93,260.81 66.25,260.13 C66.57,259.45 66.74,258.71 67.20,257.50 C67.66,256.29 68.37,254.73 69.00,252.90 C69.63,251.07 70.37,248.82 71.00,246.50 C71.63,244.18 72.27,241.25 72.80,239.00 C73.33,236.75 73.78,234.45 74.20,233.00 C74.62,231.55 74.90,230.63 75.30,230.30 C75.70,229.97 76.18,230.58 76.60,231.00 C77.02,231.42 77.27,232.05 77.80,232.80 C78.33,233.55 79.17,234.67 79.80,235.50 C80.43,236.33 80.90,236.97 81.60,237.80 C82.30,238.63 83.17,239.67 84.00,240.50 C84.83,241.33 85.68,242.52 86.60,242.80 C87.52,243.08 88.45,242.62 89.50,242.20 C90.55,241.78 91.90,240.75 92.90,240.30 C93.90,239.85 94.67,239.92 95.50,239.50 C96.33,239.08 97.15,238.80 97.90,237.80 C98.65,236.80 99.17,235.18 100.00,233.50 C100.83,231.82 102.10,229.95 102.90,227.70 C103.70,225.45 104.17,222.50 104.80,220.00 C105.43,217.50 106.25,216.02 106.70,212.70 C107.15,209.38 107.03,203.38 107.50,200.10 C107.97,196.82 108.87,194.88 109.50,193.00 C110.13,191.12 110.58,189.92 111.30,188.80 C112.02,187.68 112.97,186.30 113.80,186.30 C114.63,186.30 115.57,187.52 116.30,188.80 C117.03,190.08 117.57,192.12 118.20,194.00 C118.83,195.88 119.47,198.27 120.10,200.10 C120.73,201.93 121.38,203.32 122.00,205.00 C122.62,206.68 123.18,208.53 123.80,210.20 C124.42,211.87 125.07,213.33 125.70,215.00 C126.33,216.67 126.97,218.45 127.60,220.20 C128.23,221.95 128.87,223.83 129.50,225.50 C130.13,227.17 130.78,228.53 131.40,230.20 C132.02,231.87 132.58,233.82 133.20,235.50 C133.82,237.18 134.37,238.63 135.10,240.30 C135.83,241.97 136.75,243.83 137.60,245.50 C138.45,247.17 139.56,249.12 140.20,250.30 C140.84,251.48 141.03,251.55 141.45,252.58 C141.87,253.61 142.07,254.78 142.70,256.50 C143.32,258.22 144.57,261.42 145.20,262.90 C145.82,264.38 146.03,264.85 146.45,265.37 C146.87,265.89 147.28,265.60 147.70,266.00 C148.12,266.40 148.53,267.44 148.95,267.75 C149.37,268.07 149.67,267.81 150.20,267.90 C150.72,267.99 151.47,267.91 152.10,268.26 C152.73,268.61 153.38,269.43 154.00,270.00 C154.62,270.57 155.23,271.38 155.85,271.67 C156.47,271.95 157.07,271.71 157.70,271.70 C158.32,271.69 158.97,271.32 159.60,271.62 C160.23,271.92 160.87,273.15 161.50,273.50 C162.13,273.85 162.77,273.43 163.40,273.74 C164.03,274.06 164.68,275.15 165.30,275.40 C165.93,275.65 166.53,275.09 167.15,275.27 C167.77,275.46 168.38,276.29 169.00,276.50 C169.62,276.71 170.27,276.31 170.90,276.54 C171.53,276.77 172.18,277.31 172.80,277.90 C173.43,278.49 174.03,279.59 174.65,280.10 C175.27,280.62 175.88,280.42 176.50,281.00 C177.12,281.58 177.77,283.07 178.40,283.60 C179.03,284.13 179.68,283.87 180.30,284.20 C180.93,284.53 181.53,285.34 182.15,285.61 C182.77,285.87 183.37,285.60 184.00,285.80 C184.63,286.00 185.30,286.67 185.95,286.82 C186.60,286.97 187.28,286.88 187.90,286.70 C188.53,286.52 189.10,285.85 189.70,285.73 C190.30,285.61 190.88,286.11 191.50,286.00 C192.12,285.89 192.80,285.15 193.45,285.07 C194.10,284.99 194.78,285.42 195.40,285.50 C196.03,285.58 196.60,285.19 197.20,285.52 C197.80,285.86 198.38,286.91 199.00,287.50 C199.62,288.09 200.30,288.77 200.95,289.06 C201.60,289.34 202.28,289.25 202.90,289.20 C203.53,289.15 204.10,288.63 204.70,288.76 C205.30,288.89 205.88,289.81 206.50,290.00 C207.12,290.19 207.80,289.75 208.45,289.92 C209.10,290.08 209.78,290.61 210.40,291.00 C211.03,291.39 211.60,292.08 212.20,292.24 C212.80,292.41 213.37,292.10 214.00,292.00 C214.63,291.90 215.33,291.48 216.00,291.65 C216.67,291.81 217.67,292.77 218.00,293.00" fill="none" stroke="#000" stroke-width="2.75" stroke-linejoin="round" stroke-linecap="round"/>
<path d="M1.30,423.60 C1.57,423.71 2.37,424.33 2.90,424.27 C3.43,424.20 3.93,423.36 4.50,423.20 C5.07,423.04 5.70,423.48 6.30,423.33 C6.90,423.18 7.56,422.63 8.10,422.30 C8.64,421.97 9.07,421.43 9.55,421.35 C10.03,421.26 10.55,421.63 11.00,421.80 C11.45,421.97 11.83,422.54 12.25,422.39 C12.67,422.24 13.08,421.46 13.50,420.90 C13.92,420.34 14.33,419.40 14.75,419.00 C15.17,418.60 15.55,418.87 16.00,418.50 C16.45,418.13 16.97,417.03 17.45,416.76 C17.93,416.50 18.44,417.15 18.90,416.90 C19.36,416.65 19.77,415.51 20.20,415.28 C20.63,415.04 21.05,415.39 21.50,415.50 C21.95,415.61 22.43,416.14 22.90,415.92 C23.37,415.70 23.88,414.53 24.30,414.20 C24.72,413.87 25.03,414.23 25.40,413.94 C25.77,413.66 26.17,412.95 26.50,412.50 C26.83,412.05 27.10,411.47 27.40,411.22 C27.70,410.97 27.97,411.00 28.30,411.00 C28.63,411.00 29.03,410.86 29.40,411.20 C29.77,411.53 30.16,412.76 30.50,413.00 C30.84,413.24 31.13,412.44 31.45,412.64 C31.77,412.84 32.02,413.92 32.40,414.20 C32.77,414.48 33.27,414.61 33.70,414.32 C34.13,414.04 34.55,413.18 35.00,412.50 C35.45,411.82 35.93,410.65 36.40,410.25 C36.87,409.85 37.34,410.45 37.80,410.10 C38.26,409.75 38.70,408.50 39.15,408.15 C39.60,407.80 40.05,408.01 40.50,408.00 C40.95,407.99 41.40,408.40 41.85,408.08 C42.30,407.77 42.74,406.43 43.20,406.10 C43.66,405.77 44.13,406.45 44.60,406.10 C45.07,405.75 45.55,404.40 46.00,404.00 C46.45,403.60 46.87,404.00 47.30,403.67 C47.73,403.34 48.16,402.55 48.60,402.00 C49.04,401.45 49.50,400.71 49.95,400.38 C50.40,400.05 50.85,400.40 51.30,400.00 C51.75,399.60 52.20,398.31 52.65,397.97 C53.10,397.64 53.61,398.33 54.00,398.00 C54.39,397.67 54.67,396.30 55.00,395.96 C55.33,395.63 55.67,396.07 56.00,396.00 C56.33,395.93 56.67,395.88 57.00,395.53 C57.33,395.18 57.67,394.50 58.00,393.90 C58.33,393.30 58.67,392.35 59.00,391.95 C59.33,391.55 59.66,392.00 60.00,391.50 C60.34,391.00 60.70,389.42 61.05,388.92 C61.40,388.42 61.70,389.12 62.10,388.50 C62.50,387.88 63.00,386.09 63.45,385.18 C63.90,384.26 64.35,384.09 64.80,383.00 C65.25,381.91 65.70,379.76 66.15,378.66 C66.60,377.56 66.94,377.93 67.50,376.40 C68.06,374.87 68.83,371.98 69.50,369.50 C70.17,367.02 70.83,363.92 71.50,361.50 C72.17,359.08 72.82,357.02 73.50,355.00 C74.18,352.98 74.80,350.57 75.60,349.40 C76.40,348.23 77.40,347.33 78.30,348.00 C79.20,348.67 80.22,351.98 81.00,353.40 C81.78,354.82 82.33,355.60 83.00,356.50 C83.67,357.40 84.33,357.88 85.00,358.80 C85.67,359.72 86.32,360.87 87.00,362.00 C87.68,363.13 88.43,364.60 89.10,365.60 C89.77,366.60 90.33,367.33 91.00,368.00 C91.67,368.67 92.40,369.77 93.10,369.60 C93.80,369.43 94.52,368.12 95.20,367.00 C95.88,365.88 96.53,364.57 97.20,362.90 C97.87,361.23 98.53,359.25 99.20,357.00 C99.87,354.75 100.62,352.23 101.20,349.40 C101.78,346.57 102.27,342.68 102.70,340.00 C103.13,337.32 103.35,337.12 103.80,333.30 C104.25,329.48 104.92,320.82 105.40,317.10 C105.88,313.38 106.25,312.37 106.70,311.00 C107.15,309.63 107.42,309.02 108.10,308.90 C108.78,308.78 110.12,309.45 110.80,310.30 C111.48,311.15 111.75,312.42 112.20,314.00 C112.65,315.58 112.83,316.58 113.50,319.80 C114.17,323.02 115.30,329.25 116.20,333.30 C117.10,337.35 118.10,341.48 118.90,344.10 C119.70,346.72 120.32,347.65 121.00,349.00 C121.68,350.35 122.43,350.70 123.00,352.20 C123.57,353.70 123.95,355.73 124.40,358.00 C124.85,360.27 125.15,363.13 125.70,365.80 C126.25,368.47 127.02,371.30 127.70,374.00 C128.38,376.70 129.12,380.08 129.80,382.00 C130.48,383.92 131.13,384.60 131.80,385.50 C132.47,386.40 133.13,386.40 133.80,387.40 C134.47,388.40 135.12,390.15 135.80,391.50 C136.48,392.85 137.22,394.33 137.90,395.50 C138.58,396.67 139.40,397.92 139.90,398.50 C140.40,399.08 140.57,398.60 140.90,399.00 C141.23,399.40 141.56,400.55 141.90,400.90 C142.24,401.25 142.60,400.85 142.95,401.12 C143.30,401.39 143.66,402.31 144.00,402.50 C144.34,402.69 144.67,402.07 145.00,402.25 C145.33,402.43 145.67,403.00 146.00,403.60 C146.33,404.20 146.67,405.39 147.00,405.87 C147.33,406.36 147.66,406.31 148.00,406.50 C148.34,406.69 148.70,406.58 149.05,407.00 C149.40,407.41 149.77,408.36 150.10,409.00 C150.43,409.64 150.73,410.45 151.05,410.87 C151.37,411.28 151.67,411.41 152.00,411.50 C152.33,411.59 152.70,411.11 153.05,411.38 C153.40,411.65 153.70,412.80 154.10,413.10 C154.50,413.40 155.00,412.96 155.45,413.20 C155.90,413.43 156.35,414.26 156.80,414.50 C157.25,414.74 157.70,414.40 158.15,414.62 C158.60,414.83 159.05,415.66 159.50,415.80 C159.95,415.94 160.40,415.25 160.85,415.45 C161.30,415.65 161.75,416.71 162.20,417.00 C162.65,417.29 163.10,416.93 163.55,417.18 C164.00,417.43 164.45,417.98 164.90,418.50 C165.35,419.02 165.80,420.07 166.25,420.32 C166.70,420.57 167.15,420.05 167.60,420.00 C168.05,419.95 168.50,419.80 168.95,420.00 C169.40,420.20 169.85,421.09 170.30,421.20 C170.75,421.31 171.20,420.53 171.65,420.66 C172.10,420.79 172.54,421.90 173.00,422.00 C173.46,422.10 173.93,421.18 174.40,421.28 C174.87,421.38 175.34,422.64 175.80,422.60 C176.26,422.56 176.70,421.21 177.15,421.03 C177.60,420.85 178.05,421.43 178.50,421.50 C178.95,421.57 179.40,421.74 179.85,421.47 C180.30,421.20 180.80,420.30 181.20,419.90 C181.60,419.50 181.90,419.55 182.25,419.07 C182.60,418.59 182.97,417.63 183.30,417.00 C183.63,416.37 183.93,415.61 184.25,415.27 C184.57,414.94 184.92,414.84 185.20,415.00 C185.47,415.16 185.67,416.00 185.90,416.25 C186.13,416.50 186.27,415.89 186.60,416.50 C186.93,417.11 187.51,419.10 187.90,419.90 C188.29,420.70 188.60,420.64 188.95,421.32 C189.30,422.01 189.66,423.23 190.00,424.00 C190.34,424.77 190.67,425.53 191.00,425.96 C191.33,426.40 191.61,426.62 192.00,426.60 C192.39,426.58 192.90,425.88 193.35,425.87 C193.80,425.85 194.25,426.40 194.70,426.50 C195.15,426.60 195.60,426.66 196.05,426.46 C196.50,426.26 196.96,425.48 197.40,425.30 C197.84,425.12 198.27,425.18 198.70,425.38 C199.13,425.58 199.55,426.06 200.00,426.50 C200.45,426.94 200.93,427.80 201.40,428.05 C201.87,428.30 202.34,428.31 202.80,428.00 C203.26,427.69 203.70,426.49 204.15,426.16 C204.60,425.83 205.05,426.44 205.50,426.00 C205.95,425.56 206.40,424.11 206.85,423.54 C207.30,422.98 207.74,422.78 208.20,422.60 C208.66,422.42 209.13,422.34 209.60,422.49 C210.07,422.64 210.55,423.05 211.00,423.50 C211.45,423.95 211.87,424.91 212.30,425.21 C212.73,425.51 213.14,425.25 213.60,425.30 C214.06,425.35 214.57,425.62 215.05,425.48 C215.53,425.35 216.05,424.61 216.50,424.50 C216.95,424.39 217.33,424.90 217.75,424.80 C218.17,424.70 218.79,424.05 219.00,423.90" fill="none" stroke="#000" stroke-width="2.75" stroke-linejoin="round" stroke-linecap="round"/>
<line x1="1" y1="435.5" x2="219.5" y2="435.5" stroke="#000" stroke-width="1.4"/>
<line x1="8.80" y1="435.5" x2="8.80" y2="438" stroke="#000" stroke-width="1"/>
<line x1="20.97" y1="435.5" x2="20.97" y2="438" stroke="#000" stroke-width="1"/>
<line x1="33.14" y1="435.5" x2="33.14" y2="438" stroke="#000" stroke-width="1"/>
<line x1="45.31" y1="435.5" x2="45.31" y2="438" stroke="#000" stroke-width="1"/>
<line x1="57.48" y1="435.5" x2="57.48" y2="438" stroke="#000" stroke-width="1"/>
<line x1="69.65" y1="435.5" x2="69.65" y2="438" stroke="#000" stroke-width="1"/>
<line x1="81.82" y1="435.5" x2="81.82" y2="438" stroke="#000" stroke-width="1"/>
<line x1="93.99" y1="435.5" x2="93.99" y2="438" stroke="#000" stroke-width="1"/>
<line x1="106.16" y1="435.5" x2="106.16" y2="438" stroke="#000" stroke-width="1"/>
<line x1="118.33" y1="435.5" x2="118.33" y2="438" stroke="#000" stroke-width="1"/>
<line x1="130.50" y1="435.5" x2="130.50" y2="438" stroke="#000" stroke-width="1"/>
<line x1="142.67" y1="435.5" x2="142.67" y2="438" stroke="#000" stroke-width="1"/>
<line x1="154.84" y1="435.5" x2="154.84" y2="438" stroke="#000" stroke-width="1"/>
<line x1="167.01" y1="435.5" x2="167.01" y2="438" stroke="#000" stroke-width="1"/>
<line x1="179.18" y1="435.5" x2="179.18" y2="438" stroke="#000" stroke-width="1"/>
<line x1="191.35" y1="435.5" x2="191.35" y2="438" stroke="#000" stroke-width="1"/>
<line x1="203.52" y1="435.5" x2="203.52" y2="438" stroke="#000" stroke-width="1"/>
<line x1="215.69" y1="435.5" x2="215.69" y2="438" stroke="#000" stroke-width="1"/>
<text transform="translate(27.00,445) rotate(-90)" text-anchor="end" font-family='"Liberation Sans", sans-serif' font-size="15" fill="#000">−60.2</text>
<text transform="translate(63.50,445) rotate(-90)" text-anchor="end" font-family='"Liberation Sans", sans-serif' font-size="15" fill="#000">−60.8</text>
<text transform="translate(100.00,445) rotate(-90)" text-anchor="end" font-family='"Liberation Sans", sans-serif' font-size="15" fill="#000">−61.4</text>
<text transform="translate(136.50,445) rotate(-90)" text-anchor="end" font-family='"Liberation Sans", sans-serif' font-size="15" fill="#000">−62.0</text>
<text transform="translate(173.00,445) rotate(-90)" text-anchor="end" font-family='"Liberation Sans", sans-serif' font-size="15" fill="#000">−62.6</text>
<text transform="translate(209.50,445) rotate(-90)" text-anchor="end" font-family='"Liberation Sans", sans-serif' font-size="15" fill="#000">−63.2</text>
<text x="30.5" y="505.5" font-family='"Liberation Sans", sans-serif' font-size="15" fill="#000"><tspan font-size="10.5" dy="-6">19</tspan><tspan dy="6">F chemical shift (ppm)</tspan></text>
<text x="67.6" y="25.5" font-family='"Liberation Sans", sans-serif' font-size="11" fill="#e03a40">S<tspan font-size="8.3" dy="4">1–2</tspan></text>
<text x="104.5" y="25.5" font-family='"Liberation Sans", sans-serif' font-size="11" fill="#30a868">S<tspan font-size="8.3" dy="4">3</tspan></text>
<text x="122.5" y="25.5" font-family='"Liberation Sans", sans-serif' font-size="11" fill="#2828cc">S<tspan font-size="8.3" dy="4">3′</tspan></text>
<text x="147.9" y="100.8" font-family='"Liberation Sans", sans-serif' font-size="14.8" fill="#000">10 mM Na<tspan font-size="10.5" dx="0.8" dy="-4.6">+</tspan></text>
<text x="147.5" y="232.7" font-family='"Liberation Sans", sans-serif' font-size="14.8" fill="#000">100 mM Na<tspan font-size="10.5" dx="0.8" dy="-4.6">+</tspan></text>
<text x="152.1" y="370.5" font-family='"Liberation Sans", sans-serif' font-size="14.8" fill="#000">500 mM Na<tspan font-size="10.5" dx="0.8" dy="-4.6">+</tspan></text>
<text x="-0.8" y="15.6" font-family='"Liberation Sans", sans-serif' font-size="21.5" font-weight="bold" fill="#000">a</text>
</g>
<g id="panel-c">
<text x="267.2" y="284" font-family='"Liberation Sans", sans-serif' font-size="21.5" font-weight="bold" fill="#000">c</text>
<line x1="320.5" y1="289.20" x2="320.5" y2="442.20" stroke="#000" stroke-width="1.3"/>
<line x1="316" y1="442.20" x2="320.5" y2="442.20" stroke="#000" stroke-width="1.2"/>
<text x="310.6" y="446.90" text-anchor="end" font-family='"Liberation Sans", sans-serif' font-size="15.2" fill="#000">0</text>
<line x1="316" y1="416.80" x2="320.5" y2="416.80" stroke="#000" stroke-width="1.2"/>
<text x="310.6" y="421.50" text-anchor="end" font-family='"Liberation Sans", sans-serif' font-size="15.2" fill="#000">10</text>
<line x1="316" y1="391.40" x2="320.5" y2="391.40" stroke="#000" stroke-width="1.2"/>
<text x="310.6" y="396.10" text-anchor="end" font-family='"Liberation Sans", sans-serif' font-size="15.2" fill="#000">20</text>
<line x1="316" y1="366.00" x2="320.5" y2="366.00" stroke="#000" stroke-width="1.2"/>
<text x="310.6" y="370.70" text-anchor="end" font-family='"Liberation Sans", sans-serif' font-size="15.2" fill="#000">30</text>
<line x1="316" y1="340.60" x2="320.5" y2="340.60" stroke="#000" stroke-width="1.2"/>
<text x="310.6" y="345.30" text-anchor="end" font-family='"Liberation Sans", sans-serif' font-size="15.2" fill="#000">40</text>
<line x1="316" y1="315.20" x2="320.5" y2="315.20" stroke="#000" stroke-width="1.2"/>
<text x="310.6" y="319.90" text-anchor="end" font-family='"Liberation Sans", sans-serif' font-size="15.2" fill="#000">50</text>
<line x1="316" y1="289.80" x2="320.5" y2="289.80" stroke="#000" stroke-width="1.2"/>
<text x="310.6" y="294.50" text-anchor="end" font-family='"Liberation Sans", sans-serif' font-size="15.2" fill="#000">60</text>
<rect x="331.75" y="391.40" width="16.10" height="50.80" fill="#ff0000"/>
<line x1="339.80" y1="391.40" x2="339.80" y2="385.56" stroke="#ff0000" stroke-width="1.8"/>
<line x1="337.20" y1="385.56" x2="342.40" y2="385.56" stroke="#ff0000" stroke-width="1.8"/>
<rect x="347.85" y="346.44" width="16.10" height="95.76" fill="#00cc00"/>
<line x1="355.90" y1="346.44" x2="355.90" y2="341.62" stroke="#00cc00" stroke-width="1.8"/>
<line x1="353.30" y1="341.62" x2="358.50" y2="341.62" stroke="#00cc00" stroke-width="1.8"/>
<rect x="363.95" y="334.25" width="16.10" height="107.95" fill="#0000ff"/>
<line x1="372.00" y1="334.25" x2="372.00" y2="332.98" stroke="#0000ff" stroke-width="1.8"/>
<line x1="369.40" y1="332.98" x2="374.60" y2="332.98" stroke="#0000ff" stroke-width="1.8"/>
<rect x="402.95" y="370.83" width="16.10" height="71.37" fill="#ff0000"/>
<line x1="411.00" y1="370.83" x2="411.00" y2="365.75" stroke="#ff0000" stroke-width="1.8"/>
<line x1="408.40" y1="365.75" x2="413.60" y2="365.75" stroke="#ff0000" stroke-width="1.8"/>
<rect x="419.05" y="335.27" width="16.10" height="106.93" fill="#00cc00"/>
<line x1="427.10" y1="335.27" x2="427.10" y2="332.73" stroke="#00cc00" stroke-width="1.8"/>
<line x1="424.50" y1="332.73" x2="429.70" y2="332.73" stroke="#00cc00" stroke-width="1.8"/>
<rect x="435.15" y="366.76" width="16.10" height="75.44" fill="#0000ff"/>
<line x1="443.20" y1="366.76" x2="443.20" y2="364.22" stroke="#0000ff" stroke-width="1.8"/>
<line x1="440.60" y1="364.22" x2="445.80" y2="364.22" stroke="#0000ff" stroke-width="1.8"/>
<rect x="474.15" y="355.59" width="16.10" height="86.61" fill="#ff0000"/>
<line x1="482.20" y1="355.59" x2="482.20" y2="352.79" stroke="#ff0000" stroke-width="1.8"/>
<line x1="479.60" y1="352.79" x2="484.80" y2="352.79" stroke="#ff0000" stroke-width="1.8"/>
<rect x="490.25" y="298.94" width="16.10" height="143.26" fill="#00cc00"/>
<line x1="498.30" y1="298.94" x2="498.30" y2="295.64" stroke="#00cc00" stroke-width="1.8"/>
<line x1="495.70" y1="295.64" x2="500.90" y2="295.64" stroke="#00cc00" stroke-width="1.8"/>
<rect x="506.35" y="418.07" width="16.10" height="24.13" fill="#0000ff"/>
<line x1="514.40" y1="418.07" x2="514.40" y2="417.56" stroke="#0000ff" stroke-width="1.8"/>
<line x1="511.80" y1="417.56" x2="517.00" y2="417.56" stroke="#0000ff" stroke-width="1.8"/>
<line x1="320.5" y1="442.20" x2="533.5" y2="442.20" stroke="#000" stroke-width="1.3"/>
<line x1="320.50" y1="442.20" x2="320.50" y2="446" stroke="#000" stroke-width="1.2"/>
<line x1="391.50" y1="442.20" x2="391.50" y2="446" stroke="#000" stroke-width="1.2"/>
<line x1="462.40" y1="442.20" x2="462.40" y2="446" stroke="#000" stroke-width="1.2"/>
<line x1="533.30" y1="442.20" x2="533.30" y2="446" stroke="#000" stroke-width="1.2"/>
<text x="355.70" y="464.4" text-anchor="middle" font-family='"Liberation Sans", sans-serif' font-size="15.2" fill="#000">10</text>
<text x="426.80" y="464.4" text-anchor="middle" font-family='"Liberation Sans", sans-serif' font-size="15.2" fill="#000">100</text>
<text x="498.10" y="464.4" text-anchor="middle" font-family='"Liberation Sans", sans-serif' font-size="15.2" fill="#000">500</text>
<text x="427.2" y="487.5" text-anchor="middle" font-family='"Liberation Sans", sans-serif' font-size="15.3" fill="#000">[Na] [mM]</text>
<text transform="translate(281,366) rotate(-90)" text-anchor="middle" font-family='"Liberation Sans", sans-serif' font-size="15.4" fill="#000">State population (%)</text>
<rect x="345.6" y="289.8" width="7.8" height="7.8" fill="#ff0000"/>
<text x="356.8" y="298.6" font-family='"Liberation Sans", sans-serif' font-size="14.5" fill="#e02828">S<tspan font-size="10.5" dy="4">1–2</tspan></text>
<rect x="401" y="289.8" width="7.8" height="7.8" fill="#00cc00"/>
<text x="414.1" y="298.6" font-family='"Liberation Sans", sans-serif' font-size="14.5" fill="#22aa55">S<tspan font-size="10.5" dy="4">3</tspan></text>
<rect x="448.2" y="289.8" width="7.8" height="7.8" fill="#0000ff"/>
<text x="460.8" y="298.6" font-family='"Liberation Sans", sans-serif' font-size="14.5" fill="#2222cc">S<tspan font-size="10.5" dy="4">3′</tspan></text>
</g>
<g id="panel-d">
<text x="563.2" y="15.8" font-family='"Liberation Sans", sans-serif' font-size="21.5" font-weight="bold" fill="#000">d</text>
<text transform="translate(637.60,29.6) rotate(-90)" font-family='"Liberation Sans", sans-serif' font-size="15.7" fill="#e81010">2.50</text>
<text transform="translate(652.00,29.6) rotate(-90)" font-family='"Liberation Sans", sans-serif' font-size="15.7" fill="#000000">3.39</text>
<text transform="translate(667.60,29.6) rotate(-90)" font-family='"Liberation Sans", sans-serif' font-size="15.7" fill="#ee22ee">6.48</text>
<text transform="translate(682.80,29.6) rotate(-90)" font-family='"Liberation Sans", sans-serif' font-size="15.7" fill="#1010dd">7.49</text>
<text x="563.2" y="48.90" font-family='"Liberation Sans", sans-serif' font-size="15.3" fill="#000">A<tspan font-size="10.5" dy="4.8">2A</tspan><tspan dy="-4.8">R</tspan></text>
<text x="563.2" y="72.00" font-family='"Liberation Sans", sans-serif' font-size="15.3" fill="#000">M<tspan font-size="10.5" dy="4.8">2</tspan><tspan dy="-4.8">R</tspan></text>
<text x="563.2" y="95.10" font-family='"Liberation Sans", sans-serif' font-size="15.3" fill="#000">β<tspan font-size="10.5" dy="4.8">2</tspan><tspan dy="-4.8">AR</tspan></text>
<text x="563.2" y="118.20" font-family='"Liberation Sans", sans-serif' font-size="15.3" fill="#000">D<tspan font-size="10.5" dy="4.8">2</tspan><tspan dy="-4.8">R</tspan></text>
<text x="563.2" y="141.30" font-family='"Liberation Sans", sans-serif' font-size="15.3" fill="#000">H<tspan font-size="10.5" dy="4.8">2</tspan><tspan dy="-4.8">R</tspan></text>
<text x="563.2" y="164.40" font-family='"Liberation Sans", sans-serif' font-size="15.3" fill="#000">AT2R</text>
<text x="563.2" y="187.50" font-family='"Liberation Sans", sans-serif' font-size="15.3" fill="#000">B2R</text>
<text x="563.2" y="210.60" font-family='"Liberation Sans", sans-serif' font-size="15.3" fill="#000">ETAR</text>
<text x="563.2" y="233.70" font-family='"Liberation Sans", sans-serif' font-size="15.3" fill="#000">NTS1</text>
<text x="563.2" y="256.80" font-family='"Liberation Sans", sans-serif' font-size="15.3" fill="#000">MCH1R</text>
<text x="563.2" y="279.90" font-family='"Liberation Sans", sans-serif' font-size="15.3" fill="#000">GRP1</text>
<text x="563.2" y="303.00" font-family='"Liberation Sans", sans-serif' font-size="15.3" fill="#000">TAAR2</text>
<text x="563.2" y="326.10" font-family='"Liberation Sans", sans-serif' font-size="15.3" fill="#000">MT1</text>
<text x="563.2" y="349.20" font-family='"Liberation Sans", sans-serif' font-size="15.3" fill="#000">DP2R</text>
<text x="563.2" y="372.30" font-family='"Liberation Sans", sans-serif' font-size="15.3" fill="#000">CB1R</text>
<text x="563.2" y="395.40" font-family='"Liberation Sans", sans-serif' font-size="15.3" fill="#000">BLT1R</text>
<text x="563.2" y="418.50" font-family='"Liberation Sans", sans-serif' font-size="15.3" fill="#000">PKR1</text>
<text x="563.2" y="441.60" font-family='"Liberation Sans", sans-serif' font-size="15.3" fill="#000">CXCR4</text>
<text x="563.2" y="464.70" font-family='"Liberation Sans", sans-serif' font-size="15.3" fill="#000">PAR1</text>
<text x="563.2" y="487.80" font-family='"Liberation Sans", sans-serif' font-size="15.3" fill="#000">P2Y2R</text>
<text x="563.2" y="510.90" font-family='"Liberation Sans", sans-serif' font-size="15.3" fill="#000">MC1R</text>
<rect x="627.20" y="33.00" width="14.90" height="484.05" fill="#ff0000"/>
<rect x="642.10" y="33.00" width="13.10" height="484.05" fill="#000000"/>
<rect x="655.20" y="33.00" width="14.90" height="484.05" fill="#ff00ff"/>
<rect x="670.10" y="33.00" width="13.90" height="484.05" fill="#0000ff"/>
<rect x="642.10" y="194.35" width="13.10" height="46.10" fill="#888888"/>
<rect x="655.20" y="447.90" width="14.90" height="46.10" fill="#888888"/>
<rect x="670.10" y="447.90" width="13.90" height="69.15" fill="#00ffff"/>
<text x="629.20" y="50.80" font-family='"Liberation Serif", serif' font-size="18" fill="#ffe6e6" textLength="12.30" lengthAdjust="spacingAndGlyphs">D</text>
<text x="644.10" y="50.80" font-family='"Liberation Serif", serif' font-size="18" fill="#ececec" textLength="10.50" lengthAdjust="spacingAndGlyphs">S</text>
<text x="657.20" y="50.80" font-family='"Liberation Serif", serif' font-size="18" fill="#ffe0ff" textLength="12.30" lengthAdjust="spacingAndGlyphs">W</text>
<text x="672.10" y="50.80" font-family='"Liberation Serif", serif' font-size="18" fill="#e0e0ff" textLength="11.30" lengthAdjust="spacingAndGlyphs">N</text>
<text x="629.20" y="73.85" font-family='"Liberation Serif", serif' font-size="18" fill="#ffe6e6" textLength="12.30" lengthAdjust="spacingAndGlyphs">D</text>
<text x="644.10" y="73.85" font-family='"Liberation Serif", serif' font-size="18" fill="#ececec" textLength="10.50" lengthAdjust="spacingAndGlyphs">S</text>
<text x="657.20" y="73.85" font-family='"Liberation Serif", serif' font-size="18" fill="#ffe0ff" textLength="12.30" lengthAdjust="spacingAndGlyphs">W</text>
<text x="672.10" y="73.85" font-family='"Liberation Serif", serif' font-size="18" fill="#e0e0ff" textLength="11.30" lengthAdjust="spacingAndGlyphs">N</text>
<text x="629.20" y="96.90" font-family='"Liberation Serif", serif' font-size="18" fill="#ffe6e6" textLength="12.30" lengthAdjust="spacingAndGlyphs">D</text>
<text x="644.10" y="96.90" font-family='"Liberation Serif", serif' font-size="18" fill="#ececec" textLength="10.50" lengthAdjust="spacingAndGlyphs">S</text>
<text x="657.20" y="96.90" font-family='"Liberation Serif", serif' font-size="18" fill="#ffe0ff" textLength="12.30" lengthAdjust="spacingAndGlyphs">W</text>
<text x="672.10" y="96.90" font-family='"Liberation Serif", serif' font-size="18" fill="#e0e0ff" textLength="11.30" lengthAdjust="spacingAndGlyphs">N</text>
<text x="629.20" y="119.95" font-family='"Liberation Serif", serif' font-size="18" fill="#ffe6e6" textLength="12.30" lengthAdjust="spacingAndGlyphs">D</text>
<text x="644.10" y="119.95" font-family='"Liberation Serif", serif' font-size="18" fill="#ececec" textLength="10.50" lengthAdjust="spacingAndGlyphs">S</text>
<text x="657.20" y="119.95" font-family='"Liberation Serif", serif' font-size="18" fill="#ffe0ff" textLength="12.30" lengthAdjust="spacingAndGlyphs">W</text>
<text x="672.10" y="119.95" font-family='"Liberation Serif", serif' font-size="18" fill="#e0e0ff" textLength="11.30" lengthAdjust="spacingAndGlyphs">N</text>
<text x="629.20" y="143.00" font-family='"Liberation Serif", serif' font-size="18" fill="#ffe6e6" textLength="12.30" lengthAdjust="spacingAndGlyphs">D</text>
<text x="644.10" y="143.00" font-family='"Liberation Serif", serif' font-size="18" fill="#ececec" textLength="10.50" lengthAdjust="spacingAndGlyphs">S</text>
<text x="657.20" y="143.00" font-family='"Liberation Serif", serif' font-size="18" fill="#ffe0ff" textLength="12.30" lengthAdjust="spacingAndGlyphs">W</text>
<text x="672.10" y="143.00" font-family='"Liberation Serif", serif' font-size="18" fill="#e0e0ff" textLength="11.30" lengthAdjust="spacingAndGlyphs">N</text>
<text x="629.20" y="166.05" font-family='"Liberation Serif", serif' font-size="18" fill="#ffe6e6" textLength="12.30" lengthAdjust="spacingAndGlyphs">D</text>
<text x="644.10" y="166.05" font-family='"Liberation Serif", serif' font-size="18" fill="#ececec" textLength="10.50" lengthAdjust="spacingAndGlyphs">S</text>
<text x="657.20" y="166.05" font-family='"Liberation Serif", serif' font-size="18" fill="#ffe0ff" textLength="12.30" lengthAdjust="spacingAndGlyphs">W</text>
<text x="672.10" y="166.05" font-family='"Liberation Serif", serif' font-size="18" fill="#e0e0ff" textLength="11.30" lengthAdjust="spacingAndGlyphs">N</text>
<text x="629.20" y="189.10" font-family='"Liberation Serif", serif' font-size="18" fill="#ffe6e6" textLength="12.30" lengthAdjust="spacingAndGlyphs">D</text>
<text x="644.10" y="189.10" font-family='"Liberation Serif", serif' font-size="18" fill="#ececec" textLength="10.50" lengthAdjust="spacingAndGlyphs">S</text>
<text x="657.20" y="189.10" font-family='"Liberation Serif", serif' font-size="18" fill="#ffe0ff" textLength="12.30" lengthAdjust="spacingAndGlyphs">W</text>
<text x="672.10" y="189.10" font-family='"Liberation Serif", serif' font-size="18" fill="#e0e0ff" textLength="11.30" lengthAdjust="spacingAndGlyphs">N</text>
<text x="629.20" y="212.15" font-family='"Liberation Serif", serif' font-size="18" fill="#ffe6e6" textLength="12.30" lengthAdjust="spacingAndGlyphs">D</text>
<text x="644.10" y="212.15" font-family='"Liberation Serif", serif' font-size="18" fill="#f0f0f0" textLength="10.50" lengthAdjust="spacingAndGlyphs">T</text>
<text x="657.20" y="212.15" font-family='"Liberation Serif", serif' font-size="18" fill="#ffe0ff" textLength="12.30" lengthAdjust="spacingAndGlyphs">W</text>
<text x="672.10" y="212.15" font-family='"Liberation Serif", serif' font-size="18" fill="#e0e0ff" textLength="11.30" lengthAdjust="spacingAndGlyphs">N</text>
<text x="629.20" y="235.20" font-family='"Liberation Serif", serif' font-size="18" fill="#ffe6e6" textLength="12.30" lengthAdjust="spacingAndGlyphs">D</text>
<text x="644.10" y="235.20" font-family='"Liberation Serif", serif' font-size="18" fill="#f0f0f0" textLength="10.50" lengthAdjust="spacingAndGlyphs">T</text>
<text x="657.20" y="235.20" font-family='"Liberation Serif", serif' font-size="18" fill="#ffe0ff" textLength="12.30" lengthAdjust="spacingAndGlyphs">W</text>
<text x="672.10" y="235.20" font-family='"Liberation Serif", serif' font-size="18" fill="#e0e0ff" textLength="11.30" lengthAdjust="spacingAndGlyphs">N</text>
<text x="629.20" y="258.25" font-family='"Liberation Serif", serif' font-size="18" fill="#ffe6e6" textLength="12.30" lengthAdjust="spacingAndGlyphs">D</text>
<text x="644.10" y="258.25" font-family='"Liberation Serif", serif' font-size="18" fill="#ececec" textLength="10.50" lengthAdjust="spacingAndGlyphs">S</text>
<text x="657.20" y="258.25" font-family='"Liberation Serif", serif' font-size="18" fill="#ffe0ff" textLength="12.30" lengthAdjust="spacingAndGlyphs">W</text>
<text x="672.10" y="258.25" font-family='"Liberation Serif", serif' font-size="18" fill="#e0e0ff" textLength="11.30" lengthAdjust="spacingAndGlyphs">N</text>
<text x="629.20" y="281.30" font-family='"Liberation Serif", serif' font-size="18" fill="#ffe6e6" textLength="12.30" lengthAdjust="spacingAndGlyphs">D</text>
<text x="644.10" y="281.30" font-family='"Liberation Serif", serif' font-size="18" fill="#ececec" textLength="10.50" lengthAdjust="spacingAndGlyphs">S</text>
<text x="657.20" y="281.30" font-family='"Liberation Serif", serif' font-size="18" fill="#ffe0ff" textLength="12.30" lengthAdjust="spacingAndGlyphs">W</text>
<text x="672.10" y="281.30" font-family='"Liberation Serif", serif' font-size="18" fill="#e0e0ff" textLength="11.30" lengthAdjust="spacingAndGlyphs">N</text>
<text x="629.20" y="304.35" font-family='"Liberation Serif", serif' font-size="18" fill="#ffe6e6" textLength="12.30" lengthAdjust="spacingAndGlyphs">D</text>
<text x="644.10" y="304.35" font-family='"Liberation Serif", serif' font-size="18" fill="#ececec" textLength="10.50" lengthAdjust="spacingAndGlyphs">S</text>
<text x="657.20" y="304.35" font-family='"Liberation Serif", serif' font-size="18" fill="#ffe0ff" textLength="12.30" lengthAdjust="spacingAndGlyphs">W</text>
<text x="672.10" y="304.35" font-family='"Liberation Serif", serif' font-size="18" fill="#e0e0ff" textLength="11.30" lengthAdjust="spacingAndGlyphs">N</text>
<text x="629.20" y="327.40" font-family='"Liberation Serif", serif' font-size="18" fill="#ffe6e6" textLength="12.30" lengthAdjust="spacingAndGlyphs">D</text>
<text x="644.10" y="327.40" font-family='"Liberation Serif", serif' font-size="18" fill="#ececec" textLength="10.50" lengthAdjust="spacingAndGlyphs">S</text>
<text x="657.20" y="327.40" font-family='"Liberation Serif", serif' font-size="18" fill="#ffe0ff" textLength="12.30" lengthAdjust="spacingAndGlyphs">W</text>
<text x="672.10" y="327.40" font-family='"Liberation Serif", serif' font-size="18" fill="#e0e0ff" textLength="11.30" lengthAdjust="spacingAndGlyphs">N</text>
<text x="629.20" y="350.45" font-family='"Liberation Serif", serif' font-size="18" fill="#ffe6e6" textLength="12.30" lengthAdjust="spacingAndGlyphs">D</text>
<text x="644.10" y="350.45" font-family='"Liberation Serif", serif' font-size="18" fill="#ececec" textLength="10.50" lengthAdjust="spacingAndGlyphs">S</text>
<text x="657.20" y="350.45" font-family='"Liberation Serif", serif' font-size="18" fill="#ffe0ff" textLength="12.30" lengthAdjust="spacingAndGlyphs">W</text>
<text x="672.10" y="350.45" font-family='"Liberation Serif", serif' font-size="18" fill="#e0e0ff" textLength="11.30" lengthAdjust="spacingAndGlyphs">N</text>
<text x="629.20" y="373.50" font-family='"Liberation Serif", serif' font-size="18" fill="#ffe6e6" textLength="12.30" lengthAdjust="spacingAndGlyphs">D</text>
<text x="644.10" y="373.50" font-family='"Liberation Serif", serif' font-size="18" fill="#ececec" textLength="10.50" lengthAdjust="spacingAndGlyphs">S</text>
<text x="657.20" y="373.50" font-family='"Liberation Serif", serif' font-size="18" fill="#ffe0ff" textLength="12.30" lengthAdjust="spacingAndGlyphs">W</text>
<text x="672.10" y="373.50" font-family='"Liberation Serif", serif' font-size="18" fill="#e0e0ff" textLength="11.30" lengthAdjust="spacingAndGlyphs">N</text>
<text x="629.20" y="396.55" font-family='"Liberation Serif", serif' font-size="18" fill="#ffe6e6" textLength="12.30" lengthAdjust="spacingAndGlyphs">D</text>
<text x="644.10" y="396.55" font-family='"Liberation Serif", serif' font-size="18" fill="#ececec" textLength="10.50" lengthAdjust="spacingAndGlyphs">S</text>
<text x="657.20" y="396.55" font-family='"Liberation Serif", serif' font-size="18" fill="#ffe0ff" textLength="12.30" lengthAdjust="spacingAndGlyphs">W</text>
<text x="672.10" y="396.55" font-family='"Liberation Serif", serif' font-size="18" fill="#e0e0ff" textLength="11.30" lengthAdjust="spacingAndGlyphs">N</text>
<text x="629.20" y="419.60" font-family='"Liberation Serif", serif' font-size="18" fill="#ffe6e6" textLength="12.30" lengthAdjust="spacingAndGlyphs">D</text>
<text x="644.10" y="419.60" font-family='"Liberation Serif", serif' font-size="18" fill="#ececec" textLength="10.50" lengthAdjust="spacingAndGlyphs">S</text>
<text x="657.20" y="419.60" font-family='"Liberation Serif", serif' font-size="18" fill="#ffe0ff" textLength="12.30" lengthAdjust="spacingAndGlyphs">W</text>
<text x="672.10" y="419.60" font-family='"Liberation Serif", serif' font-size="18" fill="#e0e0ff" textLength="11.30" lengthAdjust="spacingAndGlyphs">N</text>
<text x="629.20" y="442.65" font-family='"Liberation Serif", serif' font-size="18" fill="#ffe6e6" textLength="12.30" lengthAdjust="spacingAndGlyphs">D</text>
<text x="644.10" y="442.65" font-family='"Liberation Serif", serif' font-size="18" fill="#ececec" textLength="10.50" lengthAdjust="spacingAndGlyphs">S</text>
<text x="657.20" y="442.65" font-family='"Liberation Serif", serif' font-size="18" fill="#ffe0ff" textLength="12.30" lengthAdjust="spacingAndGlyphs">W</text>
<text x="672.10" y="442.65" font-family='"Liberation Serif", serif' font-size="18" fill="#e0e0ff" textLength="11.30" lengthAdjust="spacingAndGlyphs">N</text>
<text x="629.20" y="465.70" font-family='"Liberation Serif", serif' font-size="18" fill="#ffe6e6" textLength="12.30" lengthAdjust="spacingAndGlyphs">D</text>
<text x="644.10" y="465.70" font-family='"Liberation Serif", serif' font-size="18" fill="#ececec" textLength="10.50" lengthAdjust="spacingAndGlyphs">S</text>
<text x="657.20" y="465.70" font-family='"Liberation Serif", serif' font-size="18" fill="#f0f0f0" textLength="12.30" lengthAdjust="spacingAndGlyphs">F</text>
<text x="672.10" y="465.70" font-family='"Liberation Serif", serif' font-size="18" fill="#006a6a" textLength="11.30" lengthAdjust="spacingAndGlyphs">D</text>
<text x="629.20" y="488.75" font-family='"Liberation Serif", serif' font-size="18" fill="#ffe6e6" textLength="12.30" lengthAdjust="spacingAndGlyphs">D</text>
<text x="644.10" y="488.75" font-family='"Liberation Serif", serif' font-size="18" fill="#ececec" textLength="10.50" lengthAdjust="spacingAndGlyphs">S</text>
<text x="657.20" y="488.75" font-family='"Liberation Serif", serif' font-size="18" fill="#f0f0f0" textLength="12.30" lengthAdjust="spacingAndGlyphs">F</text>
<text x="672.10" y="488.75" font-family='"Liberation Serif", serif' font-size="18" fill="#006a6a" textLength="11.30" lengthAdjust="spacingAndGlyphs">D</text>
<text x="629.20" y="511.80" font-family='"Liberation Serif", serif' font-size="18" fill="#ffe6e6" textLength="12.30" lengthAdjust="spacingAndGlyphs">D</text>
<text x="644.10" y="511.80" font-family='"Liberation Serif", serif' font-size="18" fill="#ececec" textLength="10.50" lengthAdjust="spacingAndGlyphs">S</text>
<text x="657.20" y="511.80" font-family='"Liberation Serif", serif' font-size="18" fill="#ffe0ff" textLength="12.30" lengthAdjust="spacingAndGlyphs">W</text>
<text x="672.10" y="511.80" font-family='"Liberation Serif", serif' font-size="18" fill="#006a6a" textLength="11.30" lengthAdjust="spacingAndGlyphs">D</text>
</g>
</svg>
</body></html>
